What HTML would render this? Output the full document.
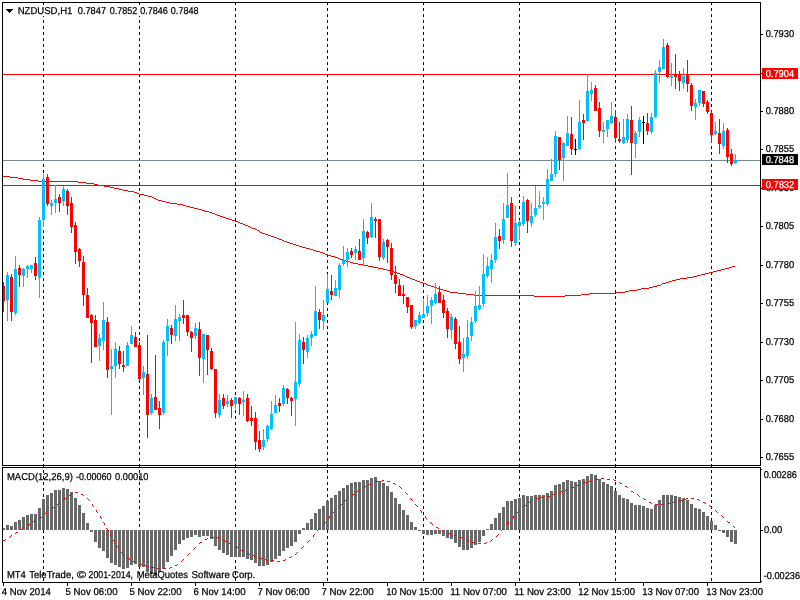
<!DOCTYPE html>
<html lang="en">
<head>
<meta charset="utf-8">
<title>NZDUSD,H1</title>
<style>
html,body{margin:0;padding:0;background:#fff;width:800px;height:600px;overflow:hidden}
svg{display:block;position:absolute;left:0;top:0}
svg rect{shape-rendering:crispEdges}
svg text{font-family:"Liberation Sans",sans-serif;font-size:10px;white-space:pre;text-rendering:geometricPrecision;stroke:#000;stroke-width:0.25px}
svg text.w{stroke:#fff}
</style>
</head>
<body>
<svg width="800" height="600" viewBox="0 0 800 600">
<rect x="0" y="0" width="800" height="600" fill="#ffffff"/>
<g id="seps">
<rect x="43" y="3" width="1" height="2" fill="#000000"/>
<rect x="43" y="8" width="1" height="3" fill="#000000"/>
<rect x="43" y="14" width="1" height="3" fill="#000000"/>
<rect x="43" y="20" width="1" height="3" fill="#000000"/>
<rect x="43" y="26" width="1" height="3" fill="#000000"/>
<rect x="43" y="32" width="1" height="3" fill="#000000"/>
<rect x="43" y="38" width="1" height="3" fill="#000000"/>
<rect x="43" y="44" width="1" height="3" fill="#000000"/>
<rect x="43" y="50" width="1" height="3" fill="#000000"/>
<rect x="43" y="56" width="1" height="3" fill="#000000"/>
<rect x="43" y="62" width="1" height="3" fill="#000000"/>
<rect x="43" y="68" width="1" height="3" fill="#000000"/>
<rect x="43" y="74" width="1" height="3" fill="#000000"/>
<rect x="43" y="80" width="1" height="3" fill="#000000"/>
<rect x="43" y="86" width="1" height="3" fill="#000000"/>
<rect x="43" y="92" width="1" height="3" fill="#000000"/>
<rect x="43" y="98" width="1" height="3" fill="#000000"/>
<rect x="43" y="104" width="1" height="3" fill="#000000"/>
<rect x="43" y="110" width="1" height="3" fill="#000000"/>
<rect x="43" y="116" width="1" height="3" fill="#000000"/>
<rect x="43" y="122" width="1" height="3" fill="#000000"/>
<rect x="43" y="128" width="1" height="3" fill="#000000"/>
<rect x="43" y="134" width="1" height="3" fill="#000000"/>
<rect x="43" y="140" width="1" height="3" fill="#000000"/>
<rect x="43" y="146" width="1" height="3" fill="#000000"/>
<rect x="43" y="152" width="1" height="3" fill="#000000"/>
<rect x="43" y="158" width="1" height="3" fill="#000000"/>
<rect x="43" y="164" width="1" height="3" fill="#000000"/>
<rect x="43" y="170" width="1" height="3" fill="#000000"/>
<rect x="43" y="176" width="1" height="3" fill="#000000"/>
<rect x="43" y="182" width="1" height="3" fill="#000000"/>
<rect x="43" y="188" width="1" height="3" fill="#000000"/>
<rect x="43" y="194" width="1" height="3" fill="#000000"/>
<rect x="43" y="200" width="1" height="3" fill="#000000"/>
<rect x="43" y="206" width="1" height="3" fill="#000000"/>
<rect x="43" y="212" width="1" height="3" fill="#000000"/>
<rect x="43" y="218" width="1" height="3" fill="#000000"/>
<rect x="43" y="224" width="1" height="3" fill="#000000"/>
<rect x="43" y="230" width="1" height="3" fill="#000000"/>
<rect x="43" y="236" width="1" height="3" fill="#000000"/>
<rect x="43" y="242" width="1" height="3" fill="#000000"/>
<rect x="43" y="248" width="1" height="3" fill="#000000"/>
<rect x="43" y="254" width="1" height="3" fill="#000000"/>
<rect x="43" y="260" width="1" height="3" fill="#000000"/>
<rect x="43" y="266" width="1" height="3" fill="#000000"/>
<rect x="43" y="272" width="1" height="3" fill="#000000"/>
<rect x="43" y="278" width="1" height="3" fill="#000000"/>
<rect x="43" y="284" width="1" height="3" fill="#000000"/>
<rect x="43" y="290" width="1" height="3" fill="#000000"/>
<rect x="43" y="296" width="1" height="3" fill="#000000"/>
<rect x="43" y="302" width="1" height="3" fill="#000000"/>
<rect x="43" y="308" width="1" height="3" fill="#000000"/>
<rect x="43" y="314" width="1" height="3" fill="#000000"/>
<rect x="43" y="320" width="1" height="3" fill="#000000"/>
<rect x="43" y="326" width="1" height="3" fill="#000000"/>
<rect x="43" y="332" width="1" height="3" fill="#000000"/>
<rect x="43" y="338" width="1" height="3" fill="#000000"/>
<rect x="43" y="344" width="1" height="3" fill="#000000"/>
<rect x="43" y="350" width="1" height="3" fill="#000000"/>
<rect x="43" y="356" width="1" height="3" fill="#000000"/>
<rect x="43" y="362" width="1" height="3" fill="#000000"/>
<rect x="43" y="368" width="1" height="3" fill="#000000"/>
<rect x="43" y="374" width="1" height="3" fill="#000000"/>
<rect x="43" y="380" width="1" height="3" fill="#000000"/>
<rect x="43" y="386" width="1" height="3" fill="#000000"/>
<rect x="43" y="392" width="1" height="3" fill="#000000"/>
<rect x="43" y="398" width="1" height="3" fill="#000000"/>
<rect x="43" y="404" width="1" height="3" fill="#000000"/>
<rect x="43" y="410" width="1" height="3" fill="#000000"/>
<rect x="43" y="416" width="1" height="3" fill="#000000"/>
<rect x="43" y="422" width="1" height="3" fill="#000000"/>
<rect x="43" y="428" width="1" height="3" fill="#000000"/>
<rect x="43" y="434" width="1" height="3" fill="#000000"/>
<rect x="43" y="440" width="1" height="3" fill="#000000"/>
<rect x="43" y="446" width="1" height="3" fill="#000000"/>
<rect x="43" y="452" width="1" height="3" fill="#000000"/>
<rect x="43" y="458" width="1" height="3" fill="#000000"/>
<rect x="43" y="464" width="1" height="3" fill="#000000"/>
<rect x="43" y="470" width="1" height="3" fill="#000000"/>
<rect x="43" y="476" width="1" height="3" fill="#000000"/>
<rect x="43" y="482" width="1" height="3" fill="#000000"/>
<rect x="43" y="488" width="1" height="3" fill="#000000"/>
<rect x="43" y="494" width="1" height="3" fill="#000000"/>
<rect x="43" y="500" width="1" height="3" fill="#000000"/>
<rect x="43" y="506" width="1" height="3" fill="#000000"/>
<rect x="43" y="512" width="1" height="3" fill="#000000"/>
<rect x="43" y="518" width="1" height="3" fill="#000000"/>
<rect x="43" y="524" width="1" height="3" fill="#000000"/>
<rect x="43" y="530" width="1" height="3" fill="#000000"/>
<rect x="43" y="536" width="1" height="3" fill="#000000"/>
<rect x="43" y="542" width="1" height="3" fill="#000000"/>
<rect x="43" y="548" width="1" height="3" fill="#000000"/>
<rect x="43" y="554" width="1" height="3" fill="#000000"/>
<rect x="43" y="560" width="1" height="3" fill="#000000"/>
<rect x="43" y="566" width="1" height="3" fill="#000000"/>
<rect x="43" y="572" width="1" height="3" fill="#000000"/>
<rect x="43" y="578" width="1" height="3" fill="#000000"/>
<rect x="139" y="3" width="1" height="2" fill="#000000"/>
<rect x="139" y="8" width="1" height="3" fill="#000000"/>
<rect x="139" y="14" width="1" height="3" fill="#000000"/>
<rect x="139" y="20" width="1" height="3" fill="#000000"/>
<rect x="139" y="26" width="1" height="3" fill="#000000"/>
<rect x="139" y="32" width="1" height="3" fill="#000000"/>
<rect x="139" y="38" width="1" height="3" fill="#000000"/>
<rect x="139" y="44" width="1" height="3" fill="#000000"/>
<rect x="139" y="50" width="1" height="3" fill="#000000"/>
<rect x="139" y="56" width="1" height="3" fill="#000000"/>
<rect x="139" y="62" width="1" height="3" fill="#000000"/>
<rect x="139" y="68" width="1" height="3" fill="#000000"/>
<rect x="139" y="74" width="1" height="3" fill="#000000"/>
<rect x="139" y="80" width="1" height="3" fill="#000000"/>
<rect x="139" y="86" width="1" height="3" fill="#000000"/>
<rect x="139" y="92" width="1" height="3" fill="#000000"/>
<rect x="139" y="98" width="1" height="3" fill="#000000"/>
<rect x="139" y="104" width="1" height="3" fill="#000000"/>
<rect x="139" y="110" width="1" height="3" fill="#000000"/>
<rect x="139" y="116" width="1" height="3" fill="#000000"/>
<rect x="139" y="122" width="1" height="3" fill="#000000"/>
<rect x="139" y="128" width="1" height="3" fill="#000000"/>
<rect x="139" y="134" width="1" height="3" fill="#000000"/>
<rect x="139" y="140" width="1" height="3" fill="#000000"/>
<rect x="139" y="146" width="1" height="3" fill="#000000"/>
<rect x="139" y="152" width="1" height="3" fill="#000000"/>
<rect x="139" y="158" width="1" height="3" fill="#000000"/>
<rect x="139" y="164" width="1" height="3" fill="#000000"/>
<rect x="139" y="170" width="1" height="3" fill="#000000"/>
<rect x="139" y="176" width="1" height="3" fill="#000000"/>
<rect x="139" y="182" width="1" height="3" fill="#000000"/>
<rect x="139" y="188" width="1" height="3" fill="#000000"/>
<rect x="139" y="194" width="1" height="3" fill="#000000"/>
<rect x="139" y="200" width="1" height="3" fill="#000000"/>
<rect x="139" y="206" width="1" height="3" fill="#000000"/>
<rect x="139" y="212" width="1" height="3" fill="#000000"/>
<rect x="139" y="218" width="1" height="3" fill="#000000"/>
<rect x="139" y="224" width="1" height="3" fill="#000000"/>
<rect x="139" y="230" width="1" height="3" fill="#000000"/>
<rect x="139" y="236" width="1" height="3" fill="#000000"/>
<rect x="139" y="242" width="1" height="3" fill="#000000"/>
<rect x="139" y="248" width="1" height="3" fill="#000000"/>
<rect x="139" y="254" width="1" height="3" fill="#000000"/>
<rect x="139" y="260" width="1" height="3" fill="#000000"/>
<rect x="139" y="266" width="1" height="3" fill="#000000"/>
<rect x="139" y="272" width="1" height="3" fill="#000000"/>
<rect x="139" y="278" width="1" height="3" fill="#000000"/>
<rect x="139" y="284" width="1" height="3" fill="#000000"/>
<rect x="139" y="290" width="1" height="3" fill="#000000"/>
<rect x="139" y="296" width="1" height="3" fill="#000000"/>
<rect x="139" y="302" width="1" height="3" fill="#000000"/>
<rect x="139" y="308" width="1" height="3" fill="#000000"/>
<rect x="139" y="314" width="1" height="3" fill="#000000"/>
<rect x="139" y="320" width="1" height="3" fill="#000000"/>
<rect x="139" y="326" width="1" height="3" fill="#000000"/>
<rect x="139" y="332" width="1" height="3" fill="#000000"/>
<rect x="139" y="338" width="1" height="3" fill="#000000"/>
<rect x="139" y="344" width="1" height="3" fill="#000000"/>
<rect x="139" y="350" width="1" height="3" fill="#000000"/>
<rect x="139" y="356" width="1" height="3" fill="#000000"/>
<rect x="139" y="362" width="1" height="3" fill="#000000"/>
<rect x="139" y="368" width="1" height="3" fill="#000000"/>
<rect x="139" y="374" width="1" height="3" fill="#000000"/>
<rect x="139" y="380" width="1" height="3" fill="#000000"/>
<rect x="139" y="386" width="1" height="3" fill="#000000"/>
<rect x="139" y="392" width="1" height="3" fill="#000000"/>
<rect x="139" y="398" width="1" height="3" fill="#000000"/>
<rect x="139" y="404" width="1" height="3" fill="#000000"/>
<rect x="139" y="410" width="1" height="3" fill="#000000"/>
<rect x="139" y="416" width="1" height="3" fill="#000000"/>
<rect x="139" y="422" width="1" height="3" fill="#000000"/>
<rect x="139" y="428" width="1" height="3" fill="#000000"/>
<rect x="139" y="434" width="1" height="3" fill="#000000"/>
<rect x="139" y="440" width="1" height="3" fill="#000000"/>
<rect x="139" y="446" width="1" height="3" fill="#000000"/>
<rect x="139" y="452" width="1" height="3" fill="#000000"/>
<rect x="139" y="458" width="1" height="3" fill="#000000"/>
<rect x="139" y="464" width="1" height="3" fill="#000000"/>
<rect x="139" y="470" width="1" height="3" fill="#000000"/>
<rect x="139" y="476" width="1" height="3" fill="#000000"/>
<rect x="139" y="482" width="1" height="3" fill="#000000"/>
<rect x="139" y="488" width="1" height="3" fill="#000000"/>
<rect x="139" y="494" width="1" height="3" fill="#000000"/>
<rect x="139" y="500" width="1" height="3" fill="#000000"/>
<rect x="139" y="506" width="1" height="3" fill="#000000"/>
<rect x="139" y="512" width="1" height="3" fill="#000000"/>
<rect x="139" y="518" width="1" height="3" fill="#000000"/>
<rect x="139" y="524" width="1" height="3" fill="#000000"/>
<rect x="139" y="530" width="1" height="3" fill="#000000"/>
<rect x="139" y="536" width="1" height="3" fill="#000000"/>
<rect x="139" y="542" width="1" height="3" fill="#000000"/>
<rect x="139" y="548" width="1" height="3" fill="#000000"/>
<rect x="139" y="554" width="1" height="3" fill="#000000"/>
<rect x="139" y="560" width="1" height="3" fill="#000000"/>
<rect x="139" y="566" width="1" height="3" fill="#000000"/>
<rect x="139" y="572" width="1" height="3" fill="#000000"/>
<rect x="139" y="578" width="1" height="3" fill="#000000"/>
<rect x="235" y="3" width="1" height="2" fill="#000000"/>
<rect x="235" y="8" width="1" height="3" fill="#000000"/>
<rect x="235" y="14" width="1" height="3" fill="#000000"/>
<rect x="235" y="20" width="1" height="3" fill="#000000"/>
<rect x="235" y="26" width="1" height="3" fill="#000000"/>
<rect x="235" y="32" width="1" height="3" fill="#000000"/>
<rect x="235" y="38" width="1" height="3" fill="#000000"/>
<rect x="235" y="44" width="1" height="3" fill="#000000"/>
<rect x="235" y="50" width="1" height="3" fill="#000000"/>
<rect x="235" y="56" width="1" height="3" fill="#000000"/>
<rect x="235" y="62" width="1" height="3" fill="#000000"/>
<rect x="235" y="68" width="1" height="3" fill="#000000"/>
<rect x="235" y="74" width="1" height="3" fill="#000000"/>
<rect x="235" y="80" width="1" height="3" fill="#000000"/>
<rect x="235" y="86" width="1" height="3" fill="#000000"/>
<rect x="235" y="92" width="1" height="3" fill="#000000"/>
<rect x="235" y="98" width="1" height="3" fill="#000000"/>
<rect x="235" y="104" width="1" height="3" fill="#000000"/>
<rect x="235" y="110" width="1" height="3" fill="#000000"/>
<rect x="235" y="116" width="1" height="3" fill="#000000"/>
<rect x="235" y="122" width="1" height="3" fill="#000000"/>
<rect x="235" y="128" width="1" height="3" fill="#000000"/>
<rect x="235" y="134" width="1" height="3" fill="#000000"/>
<rect x="235" y="140" width="1" height="3" fill="#000000"/>
<rect x="235" y="146" width="1" height="3" fill="#000000"/>
<rect x="235" y="152" width="1" height="3" fill="#000000"/>
<rect x="235" y="158" width="1" height="3" fill="#000000"/>
<rect x="235" y="164" width="1" height="3" fill="#000000"/>
<rect x="235" y="170" width="1" height="3" fill="#000000"/>
<rect x="235" y="176" width="1" height="3" fill="#000000"/>
<rect x="235" y="182" width="1" height="3" fill="#000000"/>
<rect x="235" y="188" width="1" height="3" fill="#000000"/>
<rect x="235" y="194" width="1" height="3" fill="#000000"/>
<rect x="235" y="200" width="1" height="3" fill="#000000"/>
<rect x="235" y="206" width="1" height="3" fill="#000000"/>
<rect x="235" y="212" width="1" height="3" fill="#000000"/>
<rect x="235" y="218" width="1" height="3" fill="#000000"/>
<rect x="235" y="224" width="1" height="3" fill="#000000"/>
<rect x="235" y="230" width="1" height="3" fill="#000000"/>
<rect x="235" y="236" width="1" height="3" fill="#000000"/>
<rect x="235" y="242" width="1" height="3" fill="#000000"/>
<rect x="235" y="248" width="1" height="3" fill="#000000"/>
<rect x="235" y="254" width="1" height="3" fill="#000000"/>
<rect x="235" y="260" width="1" height="3" fill="#000000"/>
<rect x="235" y="266" width="1" height="3" fill="#000000"/>
<rect x="235" y="272" width="1" height="3" fill="#000000"/>
<rect x="235" y="278" width="1" height="3" fill="#000000"/>
<rect x="235" y="284" width="1" height="3" fill="#000000"/>
<rect x="235" y="290" width="1" height="3" fill="#000000"/>
<rect x="235" y="296" width="1" height="3" fill="#000000"/>
<rect x="235" y="302" width="1" height="3" fill="#000000"/>
<rect x="235" y="308" width="1" height="3" fill="#000000"/>
<rect x="235" y="314" width="1" height="3" fill="#000000"/>
<rect x="235" y="320" width="1" height="3" fill="#000000"/>
<rect x="235" y="326" width="1" height="3" fill="#000000"/>
<rect x="235" y="332" width="1" height="3" fill="#000000"/>
<rect x="235" y="338" width="1" height="3" fill="#000000"/>
<rect x="235" y="344" width="1" height="3" fill="#000000"/>
<rect x="235" y="350" width="1" height="3" fill="#000000"/>
<rect x="235" y="356" width="1" height="3" fill="#000000"/>
<rect x="235" y="362" width="1" height="3" fill="#000000"/>
<rect x="235" y="368" width="1" height="3" fill="#000000"/>
<rect x="235" y="374" width="1" height="3" fill="#000000"/>
<rect x="235" y="380" width="1" height="3" fill="#000000"/>
<rect x="235" y="386" width="1" height="3" fill="#000000"/>
<rect x="235" y="392" width="1" height="3" fill="#000000"/>
<rect x="235" y="398" width="1" height="3" fill="#000000"/>
<rect x="235" y="404" width="1" height="3" fill="#000000"/>
<rect x="235" y="410" width="1" height="3" fill="#000000"/>
<rect x="235" y="416" width="1" height="3" fill="#000000"/>
<rect x="235" y="422" width="1" height="3" fill="#000000"/>
<rect x="235" y="428" width="1" height="3" fill="#000000"/>
<rect x="235" y="434" width="1" height="3" fill="#000000"/>
<rect x="235" y="440" width="1" height="3" fill="#000000"/>
<rect x="235" y="446" width="1" height="3" fill="#000000"/>
<rect x="235" y="452" width="1" height="3" fill="#000000"/>
<rect x="235" y="458" width="1" height="3" fill="#000000"/>
<rect x="235" y="464" width="1" height="3" fill="#000000"/>
<rect x="235" y="470" width="1" height="3" fill="#000000"/>
<rect x="235" y="476" width="1" height="3" fill="#000000"/>
<rect x="235" y="482" width="1" height="3" fill="#000000"/>
<rect x="235" y="488" width="1" height="3" fill="#000000"/>
<rect x="235" y="494" width="1" height="3" fill="#000000"/>
<rect x="235" y="500" width="1" height="3" fill="#000000"/>
<rect x="235" y="506" width="1" height="3" fill="#000000"/>
<rect x="235" y="512" width="1" height="3" fill="#000000"/>
<rect x="235" y="518" width="1" height="3" fill="#000000"/>
<rect x="235" y="524" width="1" height="3" fill="#000000"/>
<rect x="235" y="530" width="1" height="3" fill="#000000"/>
<rect x="235" y="536" width="1" height="3" fill="#000000"/>
<rect x="235" y="542" width="1" height="3" fill="#000000"/>
<rect x="235" y="548" width="1" height="3" fill="#000000"/>
<rect x="235" y="554" width="1" height="3" fill="#000000"/>
<rect x="235" y="560" width="1" height="3" fill="#000000"/>
<rect x="235" y="566" width="1" height="3" fill="#000000"/>
<rect x="235" y="572" width="1" height="3" fill="#000000"/>
<rect x="235" y="578" width="1" height="3" fill="#000000"/>
<rect x="327" y="3" width="1" height="2" fill="#000000"/>
<rect x="327" y="8" width="1" height="3" fill="#000000"/>
<rect x="327" y="14" width="1" height="3" fill="#000000"/>
<rect x="327" y="20" width="1" height="3" fill="#000000"/>
<rect x="327" y="26" width="1" height="3" fill="#000000"/>
<rect x="327" y="32" width="1" height="3" fill="#000000"/>
<rect x="327" y="38" width="1" height="3" fill="#000000"/>
<rect x="327" y="44" width="1" height="3" fill="#000000"/>
<rect x="327" y="50" width="1" height="3" fill="#000000"/>
<rect x="327" y="56" width="1" height="3" fill="#000000"/>
<rect x="327" y="62" width="1" height="3" fill="#000000"/>
<rect x="327" y="68" width="1" height="3" fill="#000000"/>
<rect x="327" y="74" width="1" height="3" fill="#000000"/>
<rect x="327" y="80" width="1" height="3" fill="#000000"/>
<rect x="327" y="86" width="1" height="3" fill="#000000"/>
<rect x="327" y="92" width="1" height="3" fill="#000000"/>
<rect x="327" y="98" width="1" height="3" fill="#000000"/>
<rect x="327" y="104" width="1" height="3" fill="#000000"/>
<rect x="327" y="110" width="1" height="3" fill="#000000"/>
<rect x="327" y="116" width="1" height="3" fill="#000000"/>
<rect x="327" y="122" width="1" height="3" fill="#000000"/>
<rect x="327" y="128" width="1" height="3" fill="#000000"/>
<rect x="327" y="134" width="1" height="3" fill="#000000"/>
<rect x="327" y="140" width="1" height="3" fill="#000000"/>
<rect x="327" y="146" width="1" height="3" fill="#000000"/>
<rect x="327" y="152" width="1" height="3" fill="#000000"/>
<rect x="327" y="158" width="1" height="3" fill="#000000"/>
<rect x="327" y="164" width="1" height="3" fill="#000000"/>
<rect x="327" y="170" width="1" height="3" fill="#000000"/>
<rect x="327" y="176" width="1" height="3" fill="#000000"/>
<rect x="327" y="182" width="1" height="3" fill="#000000"/>
<rect x="327" y="188" width="1" height="3" fill="#000000"/>
<rect x="327" y="194" width="1" height="3" fill="#000000"/>
<rect x="327" y="200" width="1" height="3" fill="#000000"/>
<rect x="327" y="206" width="1" height="3" fill="#000000"/>
<rect x="327" y="212" width="1" height="3" fill="#000000"/>
<rect x="327" y="218" width="1" height="3" fill="#000000"/>
<rect x="327" y="224" width="1" height="3" fill="#000000"/>
<rect x="327" y="230" width="1" height="3" fill="#000000"/>
<rect x="327" y="236" width="1" height="3" fill="#000000"/>
<rect x="327" y="242" width="1" height="3" fill="#000000"/>
<rect x="327" y="248" width="1" height="3" fill="#000000"/>
<rect x="327" y="254" width="1" height="3" fill="#000000"/>
<rect x="327" y="260" width="1" height="3" fill="#000000"/>
<rect x="327" y="266" width="1" height="3" fill="#000000"/>
<rect x="327" y="272" width="1" height="3" fill="#000000"/>
<rect x="327" y="278" width="1" height="3" fill="#000000"/>
<rect x="327" y="284" width="1" height="3" fill="#000000"/>
<rect x="327" y="290" width="1" height="3" fill="#000000"/>
<rect x="327" y="296" width="1" height="3" fill="#000000"/>
<rect x="327" y="302" width="1" height="3" fill="#000000"/>
<rect x="327" y="308" width="1" height="3" fill="#000000"/>
<rect x="327" y="314" width="1" height="3" fill="#000000"/>
<rect x="327" y="320" width="1" height="3" fill="#000000"/>
<rect x="327" y="326" width="1" height="3" fill="#000000"/>
<rect x="327" y="332" width="1" height="3" fill="#000000"/>
<rect x="327" y="338" width="1" height="3" fill="#000000"/>
<rect x="327" y="344" width="1" height="3" fill="#000000"/>
<rect x="327" y="350" width="1" height="3" fill="#000000"/>
<rect x="327" y="356" width="1" height="3" fill="#000000"/>
<rect x="327" y="362" width="1" height="3" fill="#000000"/>
<rect x="327" y="368" width="1" height="3" fill="#000000"/>
<rect x="327" y="374" width="1" height="3" fill="#000000"/>
<rect x="327" y="380" width="1" height="3" fill="#000000"/>
<rect x="327" y="386" width="1" height="3" fill="#000000"/>
<rect x="327" y="392" width="1" height="3" fill="#000000"/>
<rect x="327" y="398" width="1" height="3" fill="#000000"/>
<rect x="327" y="404" width="1" height="3" fill="#000000"/>
<rect x="327" y="410" width="1" height="3" fill="#000000"/>
<rect x="327" y="416" width="1" height="3" fill="#000000"/>
<rect x="327" y="422" width="1" height="3" fill="#000000"/>
<rect x="327" y="428" width="1" height="3" fill="#000000"/>
<rect x="327" y="434" width="1" height="3" fill="#000000"/>
<rect x="327" y="440" width="1" height="3" fill="#000000"/>
<rect x="327" y="446" width="1" height="3" fill="#000000"/>
<rect x="327" y="452" width="1" height="3" fill="#000000"/>
<rect x="327" y="458" width="1" height="3" fill="#000000"/>
<rect x="327" y="464" width="1" height="3" fill="#000000"/>
<rect x="327" y="470" width="1" height="3" fill="#000000"/>
<rect x="327" y="476" width="1" height="3" fill="#000000"/>
<rect x="327" y="482" width="1" height="3" fill="#000000"/>
<rect x="327" y="488" width="1" height="3" fill="#000000"/>
<rect x="327" y="494" width="1" height="3" fill="#000000"/>
<rect x="327" y="500" width="1" height="3" fill="#000000"/>
<rect x="327" y="506" width="1" height="3" fill="#000000"/>
<rect x="327" y="512" width="1" height="3" fill="#000000"/>
<rect x="327" y="518" width="1" height="3" fill="#000000"/>
<rect x="327" y="524" width="1" height="3" fill="#000000"/>
<rect x="327" y="530" width="1" height="3" fill="#000000"/>
<rect x="327" y="536" width="1" height="3" fill="#000000"/>
<rect x="327" y="542" width="1" height="3" fill="#000000"/>
<rect x="327" y="548" width="1" height="3" fill="#000000"/>
<rect x="327" y="554" width="1" height="3" fill="#000000"/>
<rect x="327" y="560" width="1" height="3" fill="#000000"/>
<rect x="327" y="566" width="1" height="3" fill="#000000"/>
<rect x="327" y="572" width="1" height="3" fill="#000000"/>
<rect x="327" y="578" width="1" height="3" fill="#000000"/>
<rect x="423" y="3" width="1" height="2" fill="#000000"/>
<rect x="423" y="8" width="1" height="3" fill="#000000"/>
<rect x="423" y="14" width="1" height="3" fill="#000000"/>
<rect x="423" y="20" width="1" height="3" fill="#000000"/>
<rect x="423" y="26" width="1" height="3" fill="#000000"/>
<rect x="423" y="32" width="1" height="3" fill="#000000"/>
<rect x="423" y="38" width="1" height="3" fill="#000000"/>
<rect x="423" y="44" width="1" height="3" fill="#000000"/>
<rect x="423" y="50" width="1" height="3" fill="#000000"/>
<rect x="423" y="56" width="1" height="3" fill="#000000"/>
<rect x="423" y="62" width="1" height="3" fill="#000000"/>
<rect x="423" y="68" width="1" height="3" fill="#000000"/>
<rect x="423" y="74" width="1" height="3" fill="#000000"/>
<rect x="423" y="80" width="1" height="3" fill="#000000"/>
<rect x="423" y="86" width="1" height="3" fill="#000000"/>
<rect x="423" y="92" width="1" height="3" fill="#000000"/>
<rect x="423" y="98" width="1" height="3" fill="#000000"/>
<rect x="423" y="104" width="1" height="3" fill="#000000"/>
<rect x="423" y="110" width="1" height="3" fill="#000000"/>
<rect x="423" y="116" width="1" height="3" fill="#000000"/>
<rect x="423" y="122" width="1" height="3" fill="#000000"/>
<rect x="423" y="128" width="1" height="3" fill="#000000"/>
<rect x="423" y="134" width="1" height="3" fill="#000000"/>
<rect x="423" y="140" width="1" height="3" fill="#000000"/>
<rect x="423" y="146" width="1" height="3" fill="#000000"/>
<rect x="423" y="152" width="1" height="3" fill="#000000"/>
<rect x="423" y="158" width="1" height="3" fill="#000000"/>
<rect x="423" y="164" width="1" height="3" fill="#000000"/>
<rect x="423" y="170" width="1" height="3" fill="#000000"/>
<rect x="423" y="176" width="1" height="3" fill="#000000"/>
<rect x="423" y="182" width="1" height="3" fill="#000000"/>
<rect x="423" y="188" width="1" height="3" fill="#000000"/>
<rect x="423" y="194" width="1" height="3" fill="#000000"/>
<rect x="423" y="200" width="1" height="3" fill="#000000"/>
<rect x="423" y="206" width="1" height="3" fill="#000000"/>
<rect x="423" y="212" width="1" height="3" fill="#000000"/>
<rect x="423" y="218" width="1" height="3" fill="#000000"/>
<rect x="423" y="224" width="1" height="3" fill="#000000"/>
<rect x="423" y="230" width="1" height="3" fill="#000000"/>
<rect x="423" y="236" width="1" height="3" fill="#000000"/>
<rect x="423" y="242" width="1" height="3" fill="#000000"/>
<rect x="423" y="248" width="1" height="3" fill="#000000"/>
<rect x="423" y="254" width="1" height="3" fill="#000000"/>
<rect x="423" y="260" width="1" height="3" fill="#000000"/>
<rect x="423" y="266" width="1" height="3" fill="#000000"/>
<rect x="423" y="272" width="1" height="3" fill="#000000"/>
<rect x="423" y="278" width="1" height="3" fill="#000000"/>
<rect x="423" y="284" width="1" height="3" fill="#000000"/>
<rect x="423" y="290" width="1" height="3" fill="#000000"/>
<rect x="423" y="296" width="1" height="3" fill="#000000"/>
<rect x="423" y="302" width="1" height="3" fill="#000000"/>
<rect x="423" y="308" width="1" height="3" fill="#000000"/>
<rect x="423" y="314" width="1" height="3" fill="#000000"/>
<rect x="423" y="320" width="1" height="3" fill="#000000"/>
<rect x="423" y="326" width="1" height="3" fill="#000000"/>
<rect x="423" y="332" width="1" height="3" fill="#000000"/>
<rect x="423" y="338" width="1" height="3" fill="#000000"/>
<rect x="423" y="344" width="1" height="3" fill="#000000"/>
<rect x="423" y="350" width="1" height="3" fill="#000000"/>
<rect x="423" y="356" width="1" height="3" fill="#000000"/>
<rect x="423" y="362" width="1" height="3" fill="#000000"/>
<rect x="423" y="368" width="1" height="3" fill="#000000"/>
<rect x="423" y="374" width="1" height="3" fill="#000000"/>
<rect x="423" y="380" width="1" height="3" fill="#000000"/>
<rect x="423" y="386" width="1" height="3" fill="#000000"/>
<rect x="423" y="392" width="1" height="3" fill="#000000"/>
<rect x="423" y="398" width="1" height="3" fill="#000000"/>
<rect x="423" y="404" width="1" height="3" fill="#000000"/>
<rect x="423" y="410" width="1" height="3" fill="#000000"/>
<rect x="423" y="416" width="1" height="3" fill="#000000"/>
<rect x="423" y="422" width="1" height="3" fill="#000000"/>
<rect x="423" y="428" width="1" height="3" fill="#000000"/>
<rect x="423" y="434" width="1" height="3" fill="#000000"/>
<rect x="423" y="440" width="1" height="3" fill="#000000"/>
<rect x="423" y="446" width="1" height="3" fill="#000000"/>
<rect x="423" y="452" width="1" height="3" fill="#000000"/>
<rect x="423" y="458" width="1" height="3" fill="#000000"/>
<rect x="423" y="464" width="1" height="3" fill="#000000"/>
<rect x="423" y="470" width="1" height="3" fill="#000000"/>
<rect x="423" y="476" width="1" height="3" fill="#000000"/>
<rect x="423" y="482" width="1" height="3" fill="#000000"/>
<rect x="423" y="488" width="1" height="3" fill="#000000"/>
<rect x="423" y="494" width="1" height="3" fill="#000000"/>
<rect x="423" y="500" width="1" height="3" fill="#000000"/>
<rect x="423" y="506" width="1" height="3" fill="#000000"/>
<rect x="423" y="512" width="1" height="3" fill="#000000"/>
<rect x="423" y="518" width="1" height="3" fill="#000000"/>
<rect x="423" y="524" width="1" height="3" fill="#000000"/>
<rect x="423" y="530" width="1" height="3" fill="#000000"/>
<rect x="423" y="536" width="1" height="3" fill="#000000"/>
<rect x="423" y="542" width="1" height="3" fill="#000000"/>
<rect x="423" y="548" width="1" height="3" fill="#000000"/>
<rect x="423" y="554" width="1" height="3" fill="#000000"/>
<rect x="423" y="560" width="1" height="3" fill="#000000"/>
<rect x="423" y="566" width="1" height="3" fill="#000000"/>
<rect x="423" y="572" width="1" height="3" fill="#000000"/>
<rect x="423" y="578" width="1" height="3" fill="#000000"/>
<rect x="519" y="3" width="1" height="2" fill="#000000"/>
<rect x="519" y="8" width="1" height="3" fill="#000000"/>
<rect x="519" y="14" width="1" height="3" fill="#000000"/>
<rect x="519" y="20" width="1" height="3" fill="#000000"/>
<rect x="519" y="26" width="1" height="3" fill="#000000"/>
<rect x="519" y="32" width="1" height="3" fill="#000000"/>
<rect x="519" y="38" width="1" height="3" fill="#000000"/>
<rect x="519" y="44" width="1" height="3" fill="#000000"/>
<rect x="519" y="50" width="1" height="3" fill="#000000"/>
<rect x="519" y="56" width="1" height="3" fill="#000000"/>
<rect x="519" y="62" width="1" height="3" fill="#000000"/>
<rect x="519" y="68" width="1" height="3" fill="#000000"/>
<rect x="519" y="74" width="1" height="3" fill="#000000"/>
<rect x="519" y="80" width="1" height="3" fill="#000000"/>
<rect x="519" y="86" width="1" height="3" fill="#000000"/>
<rect x="519" y="92" width="1" height="3" fill="#000000"/>
<rect x="519" y="98" width="1" height="3" fill="#000000"/>
<rect x="519" y="104" width="1" height="3" fill="#000000"/>
<rect x="519" y="110" width="1" height="3" fill="#000000"/>
<rect x="519" y="116" width="1" height="3" fill="#000000"/>
<rect x="519" y="122" width="1" height="3" fill="#000000"/>
<rect x="519" y="128" width="1" height="3" fill="#000000"/>
<rect x="519" y="134" width="1" height="3" fill="#000000"/>
<rect x="519" y="140" width="1" height="3" fill="#000000"/>
<rect x="519" y="146" width="1" height="3" fill="#000000"/>
<rect x="519" y="152" width="1" height="3" fill="#000000"/>
<rect x="519" y="158" width="1" height="3" fill="#000000"/>
<rect x="519" y="164" width="1" height="3" fill="#000000"/>
<rect x="519" y="170" width="1" height="3" fill="#000000"/>
<rect x="519" y="176" width="1" height="3" fill="#000000"/>
<rect x="519" y="182" width="1" height="3" fill="#000000"/>
<rect x="519" y="188" width="1" height="3" fill="#000000"/>
<rect x="519" y="194" width="1" height="3" fill="#000000"/>
<rect x="519" y="200" width="1" height="3" fill="#000000"/>
<rect x="519" y="206" width="1" height="3" fill="#000000"/>
<rect x="519" y="212" width="1" height="3" fill="#000000"/>
<rect x="519" y="218" width="1" height="3" fill="#000000"/>
<rect x="519" y="224" width="1" height="3" fill="#000000"/>
<rect x="519" y="230" width="1" height="3" fill="#000000"/>
<rect x="519" y="236" width="1" height="3" fill="#000000"/>
<rect x="519" y="242" width="1" height="3" fill="#000000"/>
<rect x="519" y="248" width="1" height="3" fill="#000000"/>
<rect x="519" y="254" width="1" height="3" fill="#000000"/>
<rect x="519" y="260" width="1" height="3" fill="#000000"/>
<rect x="519" y="266" width="1" height="3" fill="#000000"/>
<rect x="519" y="272" width="1" height="3" fill="#000000"/>
<rect x="519" y="278" width="1" height="3" fill="#000000"/>
<rect x="519" y="284" width="1" height="3" fill="#000000"/>
<rect x="519" y="290" width="1" height="3" fill="#000000"/>
<rect x="519" y="296" width="1" height="3" fill="#000000"/>
<rect x="519" y="302" width="1" height="3" fill="#000000"/>
<rect x="519" y="308" width="1" height="3" fill="#000000"/>
<rect x="519" y="314" width="1" height="3" fill="#000000"/>
<rect x="519" y="320" width="1" height="3" fill="#000000"/>
<rect x="519" y="326" width="1" height="3" fill="#000000"/>
<rect x="519" y="332" width="1" height="3" fill="#000000"/>
<rect x="519" y="338" width="1" height="3" fill="#000000"/>
<rect x="519" y="344" width="1" height="3" fill="#000000"/>
<rect x="519" y="350" width="1" height="3" fill="#000000"/>
<rect x="519" y="356" width="1" height="3" fill="#000000"/>
<rect x="519" y="362" width="1" height="3" fill="#000000"/>
<rect x="519" y="368" width="1" height="3" fill="#000000"/>
<rect x="519" y="374" width="1" height="3" fill="#000000"/>
<rect x="519" y="380" width="1" height="3" fill="#000000"/>
<rect x="519" y="386" width="1" height="3" fill="#000000"/>
<rect x="519" y="392" width="1" height="3" fill="#000000"/>
<rect x="519" y="398" width="1" height="3" fill="#000000"/>
<rect x="519" y="404" width="1" height="3" fill="#000000"/>
<rect x="519" y="410" width="1" height="3" fill="#000000"/>
<rect x="519" y="416" width="1" height="3" fill="#000000"/>
<rect x="519" y="422" width="1" height="3" fill="#000000"/>
<rect x="519" y="428" width="1" height="3" fill="#000000"/>
<rect x="519" y="434" width="1" height="3" fill="#000000"/>
<rect x="519" y="440" width="1" height="3" fill="#000000"/>
<rect x="519" y="446" width="1" height="3" fill="#000000"/>
<rect x="519" y="452" width="1" height="3" fill="#000000"/>
<rect x="519" y="458" width="1" height="3" fill="#000000"/>
<rect x="519" y="464" width="1" height="3" fill="#000000"/>
<rect x="519" y="470" width="1" height="3" fill="#000000"/>
<rect x="519" y="476" width="1" height="3" fill="#000000"/>
<rect x="519" y="482" width="1" height="3" fill="#000000"/>
<rect x="519" y="488" width="1" height="3" fill="#000000"/>
<rect x="519" y="494" width="1" height="3" fill="#000000"/>
<rect x="519" y="500" width="1" height="3" fill="#000000"/>
<rect x="519" y="506" width="1" height="3" fill="#000000"/>
<rect x="519" y="512" width="1" height="3" fill="#000000"/>
<rect x="519" y="518" width="1" height="3" fill="#000000"/>
<rect x="519" y="524" width="1" height="3" fill="#000000"/>
<rect x="519" y="530" width="1" height="3" fill="#000000"/>
<rect x="519" y="536" width="1" height="3" fill="#000000"/>
<rect x="519" y="542" width="1" height="3" fill="#000000"/>
<rect x="519" y="548" width="1" height="3" fill="#000000"/>
<rect x="519" y="554" width="1" height="3" fill="#000000"/>
<rect x="519" y="560" width="1" height="3" fill="#000000"/>
<rect x="519" y="566" width="1" height="3" fill="#000000"/>
<rect x="519" y="572" width="1" height="3" fill="#000000"/>
<rect x="519" y="578" width="1" height="3" fill="#000000"/>
<rect x="615" y="3" width="1" height="2" fill="#000000"/>
<rect x="615" y="8" width="1" height="3" fill="#000000"/>
<rect x="615" y="14" width="1" height="3" fill="#000000"/>
<rect x="615" y="20" width="1" height="3" fill="#000000"/>
<rect x="615" y="26" width="1" height="3" fill="#000000"/>
<rect x="615" y="32" width="1" height="3" fill="#000000"/>
<rect x="615" y="38" width="1" height="3" fill="#000000"/>
<rect x="615" y="44" width="1" height="3" fill="#000000"/>
<rect x="615" y="50" width="1" height="3" fill="#000000"/>
<rect x="615" y="56" width="1" height="3" fill="#000000"/>
<rect x="615" y="62" width="1" height="3" fill="#000000"/>
<rect x="615" y="68" width="1" height="3" fill="#000000"/>
<rect x="615" y="74" width="1" height="3" fill="#000000"/>
<rect x="615" y="80" width="1" height="3" fill="#000000"/>
<rect x="615" y="86" width="1" height="3" fill="#000000"/>
<rect x="615" y="92" width="1" height="3" fill="#000000"/>
<rect x="615" y="98" width="1" height="3" fill="#000000"/>
<rect x="615" y="104" width="1" height="3" fill="#000000"/>
<rect x="615" y="110" width="1" height="3" fill="#000000"/>
<rect x="615" y="116" width="1" height="3" fill="#000000"/>
<rect x="615" y="122" width="1" height="3" fill="#000000"/>
<rect x="615" y="128" width="1" height="3" fill="#000000"/>
<rect x="615" y="134" width="1" height="3" fill="#000000"/>
<rect x="615" y="140" width="1" height="3" fill="#000000"/>
<rect x="615" y="146" width="1" height="3" fill="#000000"/>
<rect x="615" y="152" width="1" height="3" fill="#000000"/>
<rect x="615" y="158" width="1" height="3" fill="#000000"/>
<rect x="615" y="164" width="1" height="3" fill="#000000"/>
<rect x="615" y="170" width="1" height="3" fill="#000000"/>
<rect x="615" y="176" width="1" height="3" fill="#000000"/>
<rect x="615" y="182" width="1" height="3" fill="#000000"/>
<rect x="615" y="188" width="1" height="3" fill="#000000"/>
<rect x="615" y="194" width="1" height="3" fill="#000000"/>
<rect x="615" y="200" width="1" height="3" fill="#000000"/>
<rect x="615" y="206" width="1" height="3" fill="#000000"/>
<rect x="615" y="212" width="1" height="3" fill="#000000"/>
<rect x="615" y="218" width="1" height="3" fill="#000000"/>
<rect x="615" y="224" width="1" height="3" fill="#000000"/>
<rect x="615" y="230" width="1" height="3" fill="#000000"/>
<rect x="615" y="236" width="1" height="3" fill="#000000"/>
<rect x="615" y="242" width="1" height="3" fill="#000000"/>
<rect x="615" y="248" width="1" height="3" fill="#000000"/>
<rect x="615" y="254" width="1" height="3" fill="#000000"/>
<rect x="615" y="260" width="1" height="3" fill="#000000"/>
<rect x="615" y="266" width="1" height="3" fill="#000000"/>
<rect x="615" y="272" width="1" height="3" fill="#000000"/>
<rect x="615" y="278" width="1" height="3" fill="#000000"/>
<rect x="615" y="284" width="1" height="3" fill="#000000"/>
<rect x="615" y="290" width="1" height="3" fill="#000000"/>
<rect x="615" y="296" width="1" height="3" fill="#000000"/>
<rect x="615" y="302" width="1" height="3" fill="#000000"/>
<rect x="615" y="308" width="1" height="3" fill="#000000"/>
<rect x="615" y="314" width="1" height="3" fill="#000000"/>
<rect x="615" y="320" width="1" height="3" fill="#000000"/>
<rect x="615" y="326" width="1" height="3" fill="#000000"/>
<rect x="615" y="332" width="1" height="3" fill="#000000"/>
<rect x="615" y="338" width="1" height="3" fill="#000000"/>
<rect x="615" y="344" width="1" height="3" fill="#000000"/>
<rect x="615" y="350" width="1" height="3" fill="#000000"/>
<rect x="615" y="356" width="1" height="3" fill="#000000"/>
<rect x="615" y="362" width="1" height="3" fill="#000000"/>
<rect x="615" y="368" width="1" height="3" fill="#000000"/>
<rect x="615" y="374" width="1" height="3" fill="#000000"/>
<rect x="615" y="380" width="1" height="3" fill="#000000"/>
<rect x="615" y="386" width="1" height="3" fill="#000000"/>
<rect x="615" y="392" width="1" height="3" fill="#000000"/>
<rect x="615" y="398" width="1" height="3" fill="#000000"/>
<rect x="615" y="404" width="1" height="3" fill="#000000"/>
<rect x="615" y="410" width="1" height="3" fill="#000000"/>
<rect x="615" y="416" width="1" height="3" fill="#000000"/>
<rect x="615" y="422" width="1" height="3" fill="#000000"/>
<rect x="615" y="428" width="1" height="3" fill="#000000"/>
<rect x="615" y="434" width="1" height="3" fill="#000000"/>
<rect x="615" y="440" width="1" height="3" fill="#000000"/>
<rect x="615" y="446" width="1" height="3" fill="#000000"/>
<rect x="615" y="452" width="1" height="3" fill="#000000"/>
<rect x="615" y="458" width="1" height="3" fill="#000000"/>
<rect x="615" y="464" width="1" height="3" fill="#000000"/>
<rect x="615" y="470" width="1" height="3" fill="#000000"/>
<rect x="615" y="476" width="1" height="3" fill="#000000"/>
<rect x="615" y="482" width="1" height="3" fill="#000000"/>
<rect x="615" y="488" width="1" height="3" fill="#000000"/>
<rect x="615" y="494" width="1" height="3" fill="#000000"/>
<rect x="615" y="500" width="1" height="3" fill="#000000"/>
<rect x="615" y="506" width="1" height="3" fill="#000000"/>
<rect x="615" y="512" width="1" height="3" fill="#000000"/>
<rect x="615" y="518" width="1" height="3" fill="#000000"/>
<rect x="615" y="524" width="1" height="3" fill="#000000"/>
<rect x="615" y="530" width="1" height="3" fill="#000000"/>
<rect x="615" y="536" width="1" height="3" fill="#000000"/>
<rect x="615" y="542" width="1" height="3" fill="#000000"/>
<rect x="615" y="548" width="1" height="3" fill="#000000"/>
<rect x="615" y="554" width="1" height="3" fill="#000000"/>
<rect x="615" y="560" width="1" height="3" fill="#000000"/>
<rect x="615" y="566" width="1" height="3" fill="#000000"/>
<rect x="615" y="572" width="1" height="3" fill="#000000"/>
<rect x="615" y="578" width="1" height="3" fill="#000000"/>
<rect x="711" y="3" width="1" height="2" fill="#000000"/>
<rect x="711" y="8" width="1" height="3" fill="#000000"/>
<rect x="711" y="14" width="1" height="3" fill="#000000"/>
<rect x="711" y="20" width="1" height="3" fill="#000000"/>
<rect x="711" y="26" width="1" height="3" fill="#000000"/>
<rect x="711" y="32" width="1" height="3" fill="#000000"/>
<rect x="711" y="38" width="1" height="3" fill="#000000"/>
<rect x="711" y="44" width="1" height="3" fill="#000000"/>
<rect x="711" y="50" width="1" height="3" fill="#000000"/>
<rect x="711" y="56" width="1" height="3" fill="#000000"/>
<rect x="711" y="62" width="1" height="3" fill="#000000"/>
<rect x="711" y="68" width="1" height="3" fill="#000000"/>
<rect x="711" y="74" width="1" height="3" fill="#000000"/>
<rect x="711" y="80" width="1" height="3" fill="#000000"/>
<rect x="711" y="86" width="1" height="3" fill="#000000"/>
<rect x="711" y="92" width="1" height="3" fill="#000000"/>
<rect x="711" y="98" width="1" height="3" fill="#000000"/>
<rect x="711" y="104" width="1" height="3" fill="#000000"/>
<rect x="711" y="110" width="1" height="3" fill="#000000"/>
<rect x="711" y="116" width="1" height="3" fill="#000000"/>
<rect x="711" y="122" width="1" height="3" fill="#000000"/>
<rect x="711" y="128" width="1" height="3" fill="#000000"/>
<rect x="711" y="134" width="1" height="3" fill="#000000"/>
<rect x="711" y="140" width="1" height="3" fill="#000000"/>
<rect x="711" y="146" width="1" height="3" fill="#000000"/>
<rect x="711" y="152" width="1" height="3" fill="#000000"/>
<rect x="711" y="158" width="1" height="3" fill="#000000"/>
<rect x="711" y="164" width="1" height="3" fill="#000000"/>
<rect x="711" y="170" width="1" height="3" fill="#000000"/>
<rect x="711" y="176" width="1" height="3" fill="#000000"/>
<rect x="711" y="182" width="1" height="3" fill="#000000"/>
<rect x="711" y="188" width="1" height="3" fill="#000000"/>
<rect x="711" y="194" width="1" height="3" fill="#000000"/>
<rect x="711" y="200" width="1" height="3" fill="#000000"/>
<rect x="711" y="206" width="1" height="3" fill="#000000"/>
<rect x="711" y="212" width="1" height="3" fill="#000000"/>
<rect x="711" y="218" width="1" height="3" fill="#000000"/>
<rect x="711" y="224" width="1" height="3" fill="#000000"/>
<rect x="711" y="230" width="1" height="3" fill="#000000"/>
<rect x="711" y="236" width="1" height="3" fill="#000000"/>
<rect x="711" y="242" width="1" height="3" fill="#000000"/>
<rect x="711" y="248" width="1" height="3" fill="#000000"/>
<rect x="711" y="254" width="1" height="3" fill="#000000"/>
<rect x="711" y="260" width="1" height="3" fill="#000000"/>
<rect x="711" y="266" width="1" height="3" fill="#000000"/>
<rect x="711" y="272" width="1" height="3" fill="#000000"/>
<rect x="711" y="278" width="1" height="3" fill="#000000"/>
<rect x="711" y="284" width="1" height="3" fill="#000000"/>
<rect x="711" y="290" width="1" height="3" fill="#000000"/>
<rect x="711" y="296" width="1" height="3" fill="#000000"/>
<rect x="711" y="302" width="1" height="3" fill="#000000"/>
<rect x="711" y="308" width="1" height="3" fill="#000000"/>
<rect x="711" y="314" width="1" height="3" fill="#000000"/>
<rect x="711" y="320" width="1" height="3" fill="#000000"/>
<rect x="711" y="326" width="1" height="3" fill="#000000"/>
<rect x="711" y="332" width="1" height="3" fill="#000000"/>
<rect x="711" y="338" width="1" height="3" fill="#000000"/>
<rect x="711" y="344" width="1" height="3" fill="#000000"/>
<rect x="711" y="350" width="1" height="3" fill="#000000"/>
<rect x="711" y="356" width="1" height="3" fill="#000000"/>
<rect x="711" y="362" width="1" height="3" fill="#000000"/>
<rect x="711" y="368" width="1" height="3" fill="#000000"/>
<rect x="711" y="374" width="1" height="3" fill="#000000"/>
<rect x="711" y="380" width="1" height="3" fill="#000000"/>
<rect x="711" y="386" width="1" height="3" fill="#000000"/>
<rect x="711" y="392" width="1" height="3" fill="#000000"/>
<rect x="711" y="398" width="1" height="3" fill="#000000"/>
<rect x="711" y="404" width="1" height="3" fill="#000000"/>
<rect x="711" y="410" width="1" height="3" fill="#000000"/>
<rect x="711" y="416" width="1" height="3" fill="#000000"/>
<rect x="711" y="422" width="1" height="3" fill="#000000"/>
<rect x="711" y="428" width="1" height="3" fill="#000000"/>
<rect x="711" y="434" width="1" height="3" fill="#000000"/>
<rect x="711" y="440" width="1" height="3" fill="#000000"/>
<rect x="711" y="446" width="1" height="3" fill="#000000"/>
<rect x="711" y="452" width="1" height="3" fill="#000000"/>
<rect x="711" y="458" width="1" height="3" fill="#000000"/>
<rect x="711" y="464" width="1" height="3" fill="#000000"/>
<rect x="711" y="470" width="1" height="3" fill="#000000"/>
<rect x="711" y="476" width="1" height="3" fill="#000000"/>
<rect x="711" y="482" width="1" height="3" fill="#000000"/>
<rect x="711" y="488" width="1" height="3" fill="#000000"/>
<rect x="711" y="494" width="1" height="3" fill="#000000"/>
<rect x="711" y="500" width="1" height="3" fill="#000000"/>
<rect x="711" y="506" width="1" height="3" fill="#000000"/>
<rect x="711" y="512" width="1" height="3" fill="#000000"/>
<rect x="711" y="518" width="1" height="3" fill="#000000"/>
<rect x="711" y="524" width="1" height="3" fill="#000000"/>
<rect x="711" y="530" width="1" height="3" fill="#000000"/>
<rect x="711" y="536" width="1" height="3" fill="#000000"/>
<rect x="711" y="542" width="1" height="3" fill="#000000"/>
<rect x="711" y="548" width="1" height="3" fill="#000000"/>
<rect x="711" y="554" width="1" height="3" fill="#000000"/>
<rect x="711" y="560" width="1" height="3" fill="#000000"/>
<rect x="711" y="566" width="1" height="3" fill="#000000"/>
<rect x="711" y="572" width="1" height="3" fill="#000000"/>
<rect x="711" y="578" width="1" height="3" fill="#000000"/>
</g>
<g id="hlines">
<rect x="3" y="160" width="757" height="1" fill="#778899"/>
<rect x="3" y="74" width="757" height="1" fill="#ff0000"/>
<rect x="3" y="185" width="757" height="1" fill="#ff0000"/>
</g>
<g id="ma">
<rect x="3" y="176" width="7" height="1" fill="#ff0000"/>
<rect x="10" y="177" width="8" height="1" fill="#ff0000"/>
<rect x="18" y="178" width="5" height="1" fill="#ff0000"/>
<rect x="23" y="179" width="7" height="1" fill="#ff0000"/>
<rect x="30" y="180" width="8" height="1" fill="#ff0000"/>
<rect x="38" y="181" width="40" height="1" fill="#ff0000"/>
<rect x="78" y="182" width="8" height="1" fill="#ff0000"/>
<rect x="86" y="183" width="8" height="1" fill="#ff0000"/>
<rect x="94" y="184" width="4" height="1" fill="#ff0000"/>
<rect x="98" y="185" width="6" height="1" fill="#ff0000"/>
<rect x="104" y="186" width="6" height="1" fill="#ff0000"/>
<rect x="110" y="187" width="4" height="1" fill="#ff0000"/>
<rect x="114" y="188" width="5" height="1" fill="#ff0000"/>
<rect x="119" y="189" width="4" height="1" fill="#ff0000"/>
<rect x="123" y="190" width="5" height="1" fill="#ff0000"/>
<rect x="128" y="191" width="6" height="1" fill="#ff0000"/>
<rect x="134" y="192" width="3" height="1" fill="#ff0000"/>
<rect x="137" y="193" width="2" height="1" fill="#ff0000"/>
<rect x="139" y="194" width="5" height="1" fill="#ff0000"/>
<rect x="144" y="195" width="4" height="1" fill="#ff0000"/>
<rect x="148" y="196" width="4" height="1" fill="#ff0000"/>
<rect x="152" y="197" width="2" height="1" fill="#ff0000"/>
<rect x="154" y="198" width="2" height="1" fill="#ff0000"/>
<rect x="156" y="199" width="2" height="1" fill="#ff0000"/>
<rect x="158" y="200" width="4" height="1" fill="#ff0000"/>
<rect x="162" y="201" width="4" height="1" fill="#ff0000"/>
<rect x="166" y="202" width="4" height="1" fill="#ff0000"/>
<rect x="170" y="203" width="7" height="1" fill="#ff0000"/>
<rect x="177" y="204" width="6" height="1" fill="#ff0000"/>
<rect x="183" y="205" width="3" height="1" fill="#ff0000"/>
<rect x="186" y="206" width="4" height="1" fill="#ff0000"/>
<rect x="190" y="207" width="4" height="1" fill="#ff0000"/>
<rect x="194" y="208" width="4" height="1" fill="#ff0000"/>
<rect x="198" y="209" width="4" height="1" fill="#ff0000"/>
<rect x="202" y="210" width="3" height="1" fill="#ff0000"/>
<rect x="205" y="211" width="4" height="1" fill="#ff0000"/>
<rect x="209" y="212" width="3" height="1" fill="#ff0000"/>
<rect x="212" y="213" width="3" height="1" fill="#ff0000"/>
<rect x="215" y="214" width="2" height="1" fill="#ff0000"/>
<rect x="217" y="215" width="3" height="1" fill="#ff0000"/>
<rect x="220" y="216" width="3" height="1" fill="#ff0000"/>
<rect x="223" y="217" width="3" height="1" fill="#ff0000"/>
<rect x="226" y="218" width="3" height="1" fill="#ff0000"/>
<rect x="229" y="219" width="3" height="1" fill="#ff0000"/>
<rect x="232" y="220" width="3" height="1" fill="#ff0000"/>
<rect x="235" y="221" width="3" height="1" fill="#ff0000"/>
<rect x="238" y="222" width="2" height="1" fill="#ff0000"/>
<rect x="240" y="223" width="3" height="1" fill="#ff0000"/>
<rect x="243" y="224" width="2" height="1" fill="#ff0000"/>
<rect x="245" y="225" width="3" height="1" fill="#ff0000"/>
<rect x="248" y="226" width="2" height="1" fill="#ff0000"/>
<rect x="250" y="227" width="2" height="1" fill="#ff0000"/>
<rect x="252" y="228" width="3" height="1" fill="#ff0000"/>
<rect x="255" y="229" width="2" height="1" fill="#ff0000"/>
<rect x="257" y="230" width="2" height="1" fill="#ff0000"/>
<rect x="259" y="231" width="1" height="1" fill="#ff0000"/>
<rect x="260" y="232" width="2" height="1" fill="#ff0000"/>
<rect x="262" y="233" width="3" height="1" fill="#ff0000"/>
<rect x="265" y="234" width="3" height="1" fill="#ff0000"/>
<rect x="268" y="235" width="3" height="1" fill="#ff0000"/>
<rect x="271" y="236" width="3" height="1" fill="#ff0000"/>
<rect x="274" y="237" width="3" height="1" fill="#ff0000"/>
<rect x="277" y="238" width="2" height="1" fill="#ff0000"/>
<rect x="279" y="239" width="3" height="1" fill="#ff0000"/>
<rect x="282" y="240" width="2" height="1" fill="#ff0000"/>
<rect x="284" y="241" width="3" height="1" fill="#ff0000"/>
<rect x="287" y="242" width="3" height="1" fill="#ff0000"/>
<rect x="290" y="243" width="3" height="1" fill="#ff0000"/>
<rect x="293" y="244" width="3" height="1" fill="#ff0000"/>
<rect x="296" y="245" width="3" height="1" fill="#ff0000"/>
<rect x="299" y="246" width="3" height="1" fill="#ff0000"/>
<rect x="302" y="247" width="4" height="1" fill="#ff0000"/>
<rect x="306" y="248" width="4" height="1" fill="#ff0000"/>
<rect x="310" y="249" width="3" height="1" fill="#ff0000"/>
<rect x="313" y="250" width="3" height="1" fill="#ff0000"/>
<rect x="316" y="251" width="4" height="1" fill="#ff0000"/>
<rect x="320" y="252" width="3" height="1" fill="#ff0000"/>
<rect x="323" y="253" width="2" height="1" fill="#ff0000"/>
<rect x="325" y="254" width="3" height="1" fill="#ff0000"/>
<rect x="328" y="255" width="3" height="1" fill="#ff0000"/>
<rect x="331" y="256" width="4" height="1" fill="#ff0000"/>
<rect x="335" y="257" width="3" height="1" fill="#ff0000"/>
<rect x="338" y="258" width="2" height="1" fill="#ff0000"/>
<rect x="340" y="259" width="3" height="1" fill="#ff0000"/>
<rect x="343" y="260" width="3" height="1" fill="#ff0000"/>
<rect x="346" y="261" width="4" height="1" fill="#ff0000"/>
<rect x="350" y="262" width="3" height="1" fill="#ff0000"/>
<rect x="353" y="263" width="5" height="1" fill="#ff0000"/>
<rect x="358" y="264" width="5" height="1" fill="#ff0000"/>
<rect x="363" y="265" width="5" height="1" fill="#ff0000"/>
<rect x="368" y="266" width="5" height="1" fill="#ff0000"/>
<rect x="373" y="267" width="5" height="1" fill="#ff0000"/>
<rect x="378" y="268" width="5" height="1" fill="#ff0000"/>
<rect x="383" y="269" width="4" height="1" fill="#ff0000"/>
<rect x="387" y="270" width="4" height="1" fill="#ff0000"/>
<rect x="391" y="271" width="3" height="1" fill="#ff0000"/>
<rect x="394" y="272" width="3" height="1" fill="#ff0000"/>
<rect x="397" y="273" width="3" height="1" fill="#ff0000"/>
<rect x="400" y="274" width="3" height="1" fill="#ff0000"/>
<rect x="403" y="275" width="2" height="1" fill="#ff0000"/>
<rect x="405" y="276" width="2" height="1" fill="#ff0000"/>
<rect x="407" y="277" width="3" height="1" fill="#ff0000"/>
<rect x="410" y="278" width="2" height="1" fill="#ff0000"/>
<rect x="412" y="279" width="3" height="1" fill="#ff0000"/>
<rect x="415" y="280" width="2" height="1" fill="#ff0000"/>
<rect x="417" y="281" width="3" height="1" fill="#ff0000"/>
<rect x="420" y="282" width="3" height="1" fill="#ff0000"/>
<rect x="423" y="283" width="3" height="1" fill="#ff0000"/>
<rect x="426" y="284" width="2" height="1" fill="#ff0000"/>
<rect x="428" y="285" width="3" height="1" fill="#ff0000"/>
<rect x="431" y="286" width="3" height="1" fill="#ff0000"/>
<rect x="434" y="287" width="3" height="1" fill="#ff0000"/>
<rect x="437" y="288" width="3" height="1" fill="#ff0000"/>
<rect x="440" y="289" width="3" height="1" fill="#ff0000"/>
<rect x="443" y="290" width="4" height="1" fill="#ff0000"/>
<rect x="447" y="291" width="3" height="1" fill="#ff0000"/>
<rect x="450" y="292" width="8" height="1" fill="#ff0000"/>
<rect x="458" y="293" width="8" height="1" fill="#ff0000"/>
<rect x="466" y="294" width="8" height="1" fill="#ff0000"/>
<rect x="474" y="295" width="60" height="1" fill="#ff0000"/>
<rect x="534" y="296" width="31" height="1" fill="#ff0000"/>
<rect x="565" y="295" width="16" height="1" fill="#ff0000"/>
<rect x="581" y="294" width="8" height="1" fill="#ff0000"/>
<rect x="589" y="293" width="27" height="1" fill="#ff0000"/>
<rect x="616" y="292" width="9" height="1" fill="#ff0000"/>
<rect x="625" y="291" width="4" height="1" fill="#ff0000"/>
<rect x="629" y="290" width="8" height="1" fill="#ff0000"/>
<rect x="637" y="289" width="4" height="1" fill="#ff0000"/>
<rect x="641" y="288" width="8" height="1" fill="#ff0000"/>
<rect x="649" y="287" width="4" height="1" fill="#ff0000"/>
<rect x="653" y="286" width="4" height="1" fill="#ff0000"/>
<rect x="657" y="285" width="4" height="1" fill="#ff0000"/>
<rect x="661" y="284" width="1" height="1" fill="#ff0000"/>
<rect x="662" y="283" width="4" height="1" fill="#ff0000"/>
<rect x="666" y="282" width="3" height="1" fill="#ff0000"/>
<rect x="669" y="281" width="3" height="1" fill="#ff0000"/>
<rect x="672" y="280" width="4" height="1" fill="#ff0000"/>
<rect x="676" y="279" width="4" height="1" fill="#ff0000"/>
<rect x="680" y="278" width="7" height="1" fill="#ff0000"/>
<rect x="687" y="277" width="6" height="1" fill="#ff0000"/>
<rect x="693" y="276" width="4" height="1" fill="#ff0000"/>
<rect x="697" y="275" width="4" height="1" fill="#ff0000"/>
<rect x="701" y="274" width="4" height="1" fill="#ff0000"/>
<rect x="705" y="273" width="4" height="1" fill="#ff0000"/>
<rect x="709" y="272" width="4" height="1" fill="#ff0000"/>
<rect x="713" y="271" width="4" height="1" fill="#ff0000"/>
<rect x="717" y="270" width="4" height="1" fill="#ff0000"/>
<rect x="721" y="269" width="4" height="1" fill="#ff0000"/>
<rect x="725" y="268" width="4" height="1" fill="#ff0000"/>
<rect x="729" y="267" width="3" height="1" fill="#ff0000"/>
<rect x="732" y="266" width="3" height="1" fill="#ff0000"/>
</g>
<g id="candles">
<rect x="3" y="282" width="1" height="30" fill="#ff0000"/>
<rect x="2" y="286" width="3" height="15" fill="#ff0000"/>
<rect x="7" y="272" width="1" height="49" fill="#00bfff"/>
<rect x="6" y="275" width="3" height="25" fill="#00bfff"/>
<rect x="11" y="274" width="1" height="47" fill="#ff0000"/>
<rect x="10" y="277" width="3" height="35" fill="#ff0000"/>
<rect x="15" y="256" width="1" height="59" fill="#00bfff"/>
<rect x="14" y="269" width="3" height="44" fill="#00bfff"/>
<rect x="19" y="265" width="1" height="22" fill="#ff0000"/>
<rect x="18" y="268" width="3" height="7" fill="#ff0000"/>
<rect x="23" y="268" width="1" height="19" fill="#00bfff"/>
<rect x="22" y="269" width="3" height="7" fill="#00bfff"/>
<rect x="27" y="265" width="1" height="13" fill="#00bfff"/>
<rect x="26" y="266" width="3" height="3" fill="#00bfff"/>
<rect x="31" y="265" width="1" height="8" fill="#00bfff"/>
<rect x="30" y="265" width="3" height="4" fill="#00bfff"/>
<rect x="35" y="257" width="1" height="23" fill="#ff0000"/>
<rect x="34" y="263" width="3" height="13" fill="#ff0000"/>
<rect x="39" y="217" width="1" height="81" fill="#00bfff"/>
<rect x="38" y="220" width="3" height="58" fill="#00bfff"/>
<rect x="43" y="174" width="1" height="53" fill="#00bfff"/>
<rect x="42" y="179" width="3" height="41" fill="#00bfff"/>
<rect x="47" y="174" width="1" height="32" fill="#ff0000"/>
<rect x="46" y="177" width="3" height="27" fill="#ff0000"/>
<rect x="51" y="200" width="1" height="15" fill="#00bfff"/>
<rect x="50" y="203" width="3" height="3" fill="#00bfff"/>
<rect x="55" y="185" width="1" height="28" fill="#00bfff"/>
<rect x="54" y="199" width="3" height="4" fill="#00bfff"/>
<rect x="59" y="194" width="1" height="18" fill="#ff0000"/>
<rect x="58" y="197" width="3" height="6" fill="#ff0000"/>
<rect x="63" y="186" width="1" height="20" fill="#00bfff"/>
<rect x="62" y="189" width="3" height="12" fill="#00bfff"/>
<rect x="67" y="189" width="1" height="26" fill="#ff0000"/>
<rect x="66" y="191" width="3" height="15" fill="#ff0000"/>
<rect x="71" y="197" width="1" height="36" fill="#ff0000"/>
<rect x="70" y="203" width="3" height="24" fill="#ff0000"/>
<rect x="75" y="222" width="1" height="42" fill="#ff0000"/>
<rect x="74" y="225" width="3" height="27" fill="#ff0000"/>
<rect x="79" y="248" width="1" height="19" fill="#ff0000"/>
<rect x="78" y="249" width="3" height="12" fill="#ff0000"/>
<rect x="83" y="256" width="1" height="50" fill="#ff0000"/>
<rect x="82" y="262" width="3" height="33" fill="#ff0000"/>
<rect x="87" y="288" width="1" height="30" fill="#ff0000"/>
<rect x="86" y="295" width="3" height="23" fill="#ff0000"/>
<rect x="91" y="314" width="1" height="49" fill="#ff0000"/>
<rect x="90" y="315" width="3" height="8" fill="#ff0000"/>
<rect x="95" y="315" width="1" height="32" fill="#ff0000"/>
<rect x="94" y="320" width="3" height="27" fill="#ff0000"/>
<rect x="99" y="334" width="1" height="27" fill="#00bfff"/>
<rect x="98" y="338" width="3" height="8" fill="#00bfff"/>
<rect x="103" y="302" width="1" height="48" fill="#00bfff"/>
<rect x="102" y="320" width="3" height="21" fill="#00bfff"/>
<rect x="107" y="317" width="1" height="61" fill="#ff0000"/>
<rect x="106" y="322" width="3" height="48" fill="#ff0000"/>
<rect x="111" y="349" width="1" height="66" fill="#00bfff"/>
<rect x="110" y="366" width="3" height="3" fill="#00bfff"/>
<rect x="115" y="342" width="1" height="36" fill="#00bfff"/>
<rect x="114" y="349" width="3" height="17" fill="#00bfff"/>
<rect x="119" y="346" width="1" height="23" fill="#ff0000"/>
<rect x="118" y="351" width="3" height="13" fill="#ff0000"/>
<rect x="123" y="351" width="1" height="21" fill="#ff0000"/>
<rect x="122" y="365" width="3" height="2" fill="#ff0000"/>
<rect x="127" y="342" width="1" height="24" fill="#00bfff"/>
<rect x="126" y="345" width="3" height="21" fill="#00bfff"/>
<rect x="131" y="326" width="1" height="18" fill="#00bfff"/>
<rect x="130" y="335" width="3" height="9" fill="#00bfff"/>
<rect x="135" y="332" width="1" height="15" fill="#ff0000"/>
<rect x="134" y="337" width="3" height="10" fill="#ff0000"/>
<rect x="139" y="342" width="1" height="39" fill="#ff0000"/>
<rect x="138" y="345" width="3" height="34" fill="#ff0000"/>
<rect x="143" y="366" width="1" height="29" fill="#00bfff"/>
<rect x="142" y="372" width="3" height="6" fill="#00bfff"/>
<rect x="147" y="335" width="1" height="103" fill="#ff0000"/>
<rect x="146" y="374" width="3" height="41" fill="#ff0000"/>
<rect x="151" y="394" width="1" height="21" fill="#00bfff"/>
<rect x="150" y="398" width="3" height="15" fill="#00bfff"/>
<rect x="155" y="355" width="1" height="55" fill="#ff0000"/>
<rect x="154" y="397" width="3" height="13" fill="#ff0000"/>
<rect x="159" y="401" width="1" height="28" fill="#ff0000"/>
<rect x="158" y="408" width="3" height="7" fill="#ff0000"/>
<rect x="163" y="340" width="1" height="75" fill="#00bfff"/>
<rect x="162" y="342" width="3" height="71" fill="#00bfff"/>
<rect x="167" y="319" width="1" height="37" fill="#00bfff"/>
<rect x="166" y="326" width="3" height="15" fill="#00bfff"/>
<rect x="171" y="325" width="1" height="19" fill="#ff0000"/>
<rect x="170" y="328" width="3" height="7" fill="#ff0000"/>
<rect x="175" y="305" width="1" height="36" fill="#00bfff"/>
<rect x="174" y="319" width="3" height="17" fill="#00bfff"/>
<rect x="179" y="314" width="1" height="27" fill="#00bfff"/>
<rect x="178" y="317" width="3" height="4" fill="#00bfff"/>
<rect x="183" y="300" width="1" height="24" fill="#ff0000"/>
<rect x="182" y="315" width="3" height="3" fill="#ff0000"/>
<rect x="187" y="315" width="1" height="21" fill="#ff0000"/>
<rect x="186" y="315" width="3" height="17" fill="#ff0000"/>
<rect x="191" y="331" width="1" height="21" fill="#ff0000"/>
<rect x="190" y="332" width="3" height="6" fill="#ff0000"/>
<rect x="195" y="323" width="1" height="16" fill="#00bfff"/>
<rect x="194" y="328" width="3" height="8" fill="#00bfff"/>
<rect x="199" y="322" width="1" height="54" fill="#ff0000"/>
<rect x="198" y="329" width="3" height="29" fill="#ff0000"/>
<rect x="203" y="334" width="1" height="49" fill="#00bfff"/>
<rect x="202" y="334" width="3" height="25" fill="#00bfff"/>
<rect x="207" y="335" width="1" height="40" fill="#ff0000"/>
<rect x="206" y="335" width="3" height="15" fill="#ff0000"/>
<rect x="211" y="348" width="1" height="22" fill="#ff0000"/>
<rect x="210" y="351" width="3" height="18" fill="#ff0000"/>
<rect x="215" y="369" width="1" height="49" fill="#ff0000"/>
<rect x="214" y="369" width="3" height="44" fill="#ff0000"/>
<rect x="219" y="394" width="1" height="24" fill="#00bfff"/>
<rect x="218" y="400" width="3" height="15" fill="#00bfff"/>
<rect x="223" y="394" width="1" height="15" fill="#ff0000"/>
<rect x="222" y="398" width="3" height="8" fill="#ff0000"/>
<rect x="227" y="395" width="1" height="12" fill="#00bfff"/>
<rect x="226" y="401" width="3" height="3" fill="#00bfff"/>
<rect x="231" y="398" width="1" height="20" fill="#ff0000"/>
<rect x="230" y="400" width="3" height="6" fill="#ff0000"/>
<rect x="235" y="397" width="1" height="12" fill="#00bfff"/>
<rect x="234" y="397" width="3" height="7" fill="#00bfff"/>
<rect x="239" y="397" width="1" height="18" fill="#ff0000"/>
<rect x="238" y="398" width="3" height="6" fill="#ff0000"/>
<rect x="243" y="391" width="1" height="25" fill="#00bfff"/>
<rect x="242" y="400" width="3" height="2" fill="#00bfff"/>
<rect x="247" y="394" width="1" height="28" fill="#ff0000"/>
<rect x="246" y="398" width="3" height="23" fill="#ff0000"/>
<rect x="251" y="406" width="1" height="20" fill="#ff0000"/>
<rect x="250" y="418" width="3" height="3" fill="#ff0000"/>
<rect x="255" y="412" width="1" height="38" fill="#ff0000"/>
<rect x="254" y="418" width="3" height="24" fill="#ff0000"/>
<rect x="259" y="431" width="1" height="21" fill="#ff0000"/>
<rect x="258" y="440" width="3" height="9" fill="#ff0000"/>
<rect x="263" y="429" width="1" height="21" fill="#00bfff"/>
<rect x="262" y="440" width="3" height="7" fill="#00bfff"/>
<rect x="267" y="425" width="1" height="17" fill="#00bfff"/>
<rect x="266" y="426" width="3" height="13" fill="#00bfff"/>
<rect x="271" y="401" width="1" height="29" fill="#00bfff"/>
<rect x="270" y="414" width="3" height="15" fill="#00bfff"/>
<rect x="275" y="395" width="1" height="18" fill="#00bfff"/>
<rect x="274" y="405" width="3" height="8" fill="#00bfff"/>
<rect x="279" y="398" width="1" height="14" fill="#ff0000"/>
<rect x="278" y="403" width="3" height="3" fill="#ff0000"/>
<rect x="283" y="385" width="1" height="21" fill="#00bfff"/>
<rect x="282" y="388" width="3" height="16" fill="#00bfff"/>
<rect x="287" y="388" width="1" height="16" fill="#ff0000"/>
<rect x="286" y="389" width="3" height="9" fill="#ff0000"/>
<rect x="291" y="397" width="1" height="19" fill="#ff0000"/>
<rect x="290" y="398" width="3" height="3" fill="#ff0000"/>
<rect x="295" y="322" width="1" height="104" fill="#00bfff"/>
<rect x="294" y="382" width="3" height="17" fill="#00bfff"/>
<rect x="299" y="334" width="1" height="53" fill="#00bfff"/>
<rect x="298" y="340" width="3" height="44" fill="#00bfff"/>
<rect x="303" y="337" width="1" height="27" fill="#ff0000"/>
<rect x="302" y="342" width="3" height="8" fill="#ff0000"/>
<rect x="307" y="335" width="1" height="23" fill="#00bfff"/>
<rect x="306" y="338" width="3" height="14" fill="#00bfff"/>
<rect x="311" y="331" width="1" height="15" fill="#00bfff"/>
<rect x="310" y="334" width="3" height="4" fill="#00bfff"/>
<rect x="315" y="286" width="1" height="50" fill="#00bfff"/>
<rect x="314" y="311" width="3" height="25" fill="#00bfff"/>
<rect x="319" y="309" width="1" height="20" fill="#ff0000"/>
<rect x="318" y="312" width="3" height="8" fill="#ff0000"/>
<rect x="323" y="300" width="1" height="30" fill="#00bfff"/>
<rect x="322" y="315" width="3" height="6" fill="#00bfff"/>
<rect x="327" y="274" width="1" height="29" fill="#00bfff"/>
<rect x="326" y="289" width="3" height="14" fill="#00bfff"/>
<rect x="331" y="275" width="1" height="25" fill="#ff0000"/>
<rect x="330" y="291" width="3" height="4" fill="#ff0000"/>
<rect x="335" y="280" width="1" height="16" fill="#00bfff"/>
<rect x="334" y="288" width="3" height="8" fill="#00bfff"/>
<rect x="339" y="263" width="1" height="35" fill="#00bfff"/>
<rect x="338" y="265" width="3" height="25" fill="#00bfff"/>
<rect x="343" y="246" width="1" height="20" fill="#00bfff"/>
<rect x="342" y="260" width="3" height="4" fill="#00bfff"/>
<rect x="347" y="248" width="1" height="19" fill="#00bfff"/>
<rect x="346" y="252" width="3" height="8" fill="#00bfff"/>
<rect x="351" y="248" width="1" height="10" fill="#ff0000"/>
<rect x="350" y="251" width="3" height="4" fill="#ff0000"/>
<rect x="355" y="246" width="1" height="14" fill="#00bfff"/>
<rect x="354" y="249" width="3" height="4" fill="#00bfff"/>
<rect x="359" y="239" width="1" height="21" fill="#ff0000"/>
<rect x="358" y="251" width="3" height="9" fill="#ff0000"/>
<rect x="363" y="219" width="1" height="47" fill="#00bfff"/>
<rect x="362" y="231" width="3" height="27" fill="#00bfff"/>
<rect x="367" y="231" width="1" height="13" fill="#ff0000"/>
<rect x="366" y="232" width="3" height="6" fill="#ff0000"/>
<rect x="371" y="203" width="1" height="35" fill="#00bfff"/>
<rect x="370" y="217" width="3" height="20" fill="#00bfff"/>
<rect x="375" y="217" width="1" height="21" fill="#ff0000"/>
<rect x="374" y="219" width="3" height="2" fill="#ff0000"/>
<rect x="379" y="219" width="1" height="42" fill="#ff0000"/>
<rect x="378" y="219" width="3" height="38" fill="#ff0000"/>
<rect x="383" y="239" width="1" height="21" fill="#00bfff"/>
<rect x="382" y="242" width="3" height="16" fill="#00bfff"/>
<rect x="387" y="239" width="1" height="24" fill="#ff0000"/>
<rect x="386" y="240" width="3" height="7" fill="#ff0000"/>
<rect x="391" y="243" width="1" height="37" fill="#ff0000"/>
<rect x="390" y="248" width="3" height="27" fill="#ff0000"/>
<rect x="395" y="266" width="1" height="27" fill="#ff0000"/>
<rect x="394" y="275" width="3" height="9" fill="#ff0000"/>
<rect x="399" y="279" width="1" height="17" fill="#ff0000"/>
<rect x="398" y="285" width="3" height="11" fill="#ff0000"/>
<rect x="403" y="285" width="1" height="19" fill="#ff0000"/>
<rect x="402" y="294" width="3" height="2" fill="#ff0000"/>
<rect x="407" y="297" width="1" height="16" fill="#ff0000"/>
<rect x="406" y="297" width="3" height="10" fill="#ff0000"/>
<rect x="411" y="305" width="1" height="24" fill="#ff0000"/>
<rect x="410" y="305" width="3" height="22" fill="#ff0000"/>
<rect x="415" y="320" width="1" height="9" fill="#00bfff"/>
<rect x="414" y="320" width="3" height="6" fill="#00bfff"/>
<rect x="419" y="312" width="1" height="12" fill="#00bfff"/>
<rect x="418" y="315" width="3" height="8" fill="#00bfff"/>
<rect x="423" y="300" width="1" height="18" fill="#00bfff"/>
<rect x="422" y="314" width="3" height="4" fill="#00bfff"/>
<rect x="427" y="295" width="1" height="21" fill="#00bfff"/>
<rect x="426" y="306" width="3" height="7" fill="#00bfff"/>
<rect x="431" y="297" width="1" height="27" fill="#00bfff"/>
<rect x="430" y="300" width="3" height="6" fill="#00bfff"/>
<rect x="435" y="283" width="1" height="21" fill="#00bfff"/>
<rect x="434" y="294" width="3" height="9" fill="#00bfff"/>
<rect x="439" y="286" width="1" height="17" fill="#ff0000"/>
<rect x="438" y="292" width="3" height="11" fill="#ff0000"/>
<rect x="443" y="295" width="1" height="23" fill="#ff0000"/>
<rect x="442" y="300" width="3" height="13" fill="#ff0000"/>
<rect x="447" y="308" width="1" height="30" fill="#ff0000"/>
<rect x="446" y="311" width="3" height="18" fill="#ff0000"/>
<rect x="451" y="314" width="1" height="25" fill="#00bfff"/>
<rect x="450" y="317" width="3" height="13" fill="#00bfff"/>
<rect x="455" y="317" width="1" height="32" fill="#ff0000"/>
<rect x="454" y="319" width="3" height="25" fill="#ff0000"/>
<rect x="459" y="326" width="1" height="38" fill="#ff0000"/>
<rect x="458" y="342" width="3" height="17" fill="#ff0000"/>
<rect x="463" y="338" width="1" height="34" fill="#00bfff"/>
<rect x="462" y="354" width="3" height="4" fill="#00bfff"/>
<rect x="467" y="320" width="1" height="39" fill="#00bfff"/>
<rect x="466" y="337" width="3" height="19" fill="#00bfff"/>
<rect x="471" y="317" width="1" height="24" fill="#00bfff"/>
<rect x="470" y="322" width="3" height="14" fill="#00bfff"/>
<rect x="475" y="291" width="1" height="32" fill="#00bfff"/>
<rect x="474" y="306" width="3" height="15" fill="#00bfff"/>
<rect x="479" y="286" width="1" height="24" fill="#00bfff"/>
<rect x="478" y="305" width="3" height="4" fill="#00bfff"/>
<rect x="483" y="254" width="1" height="53" fill="#00bfff"/>
<rect x="482" y="274" width="3" height="30" fill="#00bfff"/>
<rect x="487" y="257" width="1" height="21" fill="#00bfff"/>
<rect x="486" y="266" width="3" height="10" fill="#00bfff"/>
<rect x="491" y="254" width="1" height="29" fill="#00bfff"/>
<rect x="490" y="260" width="3" height="9" fill="#00bfff"/>
<rect x="495" y="223" width="1" height="40" fill="#00bfff"/>
<rect x="494" y="237" width="3" height="23" fill="#00bfff"/>
<rect x="499" y="229" width="1" height="20" fill="#ff0000"/>
<rect x="498" y="236" width="3" height="5" fill="#ff0000"/>
<rect x="503" y="203" width="1" height="41" fill="#00bfff"/>
<rect x="502" y="219" width="3" height="21" fill="#00bfff"/>
<rect x="507" y="173" width="1" height="45" fill="#00bfff"/>
<rect x="506" y="205" width="3" height="13" fill="#00bfff"/>
<rect x="511" y="197" width="1" height="50" fill="#ff0000"/>
<rect x="510" y="203" width="3" height="38" fill="#ff0000"/>
<rect x="515" y="206" width="1" height="40" fill="#00bfff"/>
<rect x="514" y="223" width="3" height="20" fill="#00bfff"/>
<rect x="519" y="220" width="1" height="20" fill="#00bfff"/>
<rect x="518" y="222" width="3" height="4" fill="#00bfff"/>
<rect x="523" y="196" width="1" height="30" fill="#00bfff"/>
<rect x="522" y="202" width="3" height="22" fill="#00bfff"/>
<rect x="527" y="199" width="1" height="34" fill="#ff0000"/>
<rect x="526" y="200" width="3" height="21" fill="#ff0000"/>
<rect x="531" y="203" width="1" height="24" fill="#00bfff"/>
<rect x="530" y="216" width="3" height="7" fill="#00bfff"/>
<rect x="535" y="186" width="1" height="31" fill="#00bfff"/>
<rect x="534" y="208" width="3" height="7" fill="#00bfff"/>
<rect x="539" y="191" width="1" height="18" fill="#00bfff"/>
<rect x="538" y="205" width="3" height="2" fill="#00bfff"/>
<rect x="543" y="197" width="1" height="23" fill="#00bfff"/>
<rect x="542" y="202" width="3" height="2" fill="#00bfff"/>
<rect x="547" y="169" width="1" height="37" fill="#00bfff"/>
<rect x="546" y="179" width="3" height="25" fill="#00bfff"/>
<rect x="551" y="159" width="1" height="22" fill="#00bfff"/>
<rect x="550" y="174" width="3" height="7" fill="#00bfff"/>
<rect x="555" y="131" width="1" height="46" fill="#00bfff"/>
<rect x="554" y="136" width="3" height="38" fill="#00bfff"/>
<rect x="559" y="137" width="1" height="33" fill="#ff0000"/>
<rect x="558" y="137" width="3" height="23" fill="#ff0000"/>
<rect x="563" y="142" width="1" height="39" fill="#00bfff"/>
<rect x="562" y="143" width="3" height="15" fill="#00bfff"/>
<rect x="567" y="116" width="1" height="30" fill="#00bfff"/>
<rect x="566" y="133" width="3" height="13" fill="#00bfff"/>
<rect x="571" y="117" width="1" height="38" fill="#ff0000"/>
<rect x="570" y="134" width="3" height="15" fill="#ff0000"/>
<rect x="575" y="139" width="1" height="16" fill="#000000"/>
<rect x="574" y="149" width="3" height="1" fill="#000000"/>
<rect x="579" y="100" width="1" height="50" fill="#00bfff"/>
<rect x="578" y="122" width="3" height="27" fill="#00bfff"/>
<rect x="583" y="114" width="1" height="26" fill="#ff0000"/>
<rect x="582" y="120" width="3" height="3" fill="#ff0000"/>
<rect x="587" y="74" width="1" height="47" fill="#00bfff"/>
<rect x="586" y="91" width="3" height="30" fill="#00bfff"/>
<rect x="591" y="82" width="1" height="19" fill="#00bfff"/>
<rect x="590" y="90" width="3" height="4" fill="#00bfff"/>
<rect x="595" y="85" width="1" height="26" fill="#ff0000"/>
<rect x="594" y="88" width="3" height="23" fill="#ff0000"/>
<rect x="599" y="102" width="1" height="35" fill="#ff0000"/>
<rect x="598" y="108" width="3" height="23" fill="#ff0000"/>
<rect x="603" y="122" width="1" height="21" fill="#00bfff"/>
<rect x="602" y="130" width="3" height="2" fill="#00bfff"/>
<rect x="607" y="120" width="1" height="17" fill="#00bfff"/>
<rect x="606" y="120" width="3" height="9" fill="#00bfff"/>
<rect x="611" y="102" width="1" height="22" fill="#00bfff"/>
<rect x="610" y="116" width="3" height="7" fill="#00bfff"/>
<rect x="615" y="110" width="1" height="33" fill="#ff0000"/>
<rect x="614" y="117" width="3" height="21" fill="#ff0000"/>
<rect x="619" y="122" width="1" height="21" fill="#ff0000"/>
<rect x="618" y="139" width="3" height="2" fill="#ff0000"/>
<rect x="623" y="119" width="1" height="25" fill="#00bfff"/>
<rect x="622" y="137" width="3" height="6" fill="#00bfff"/>
<rect x="627" y="114" width="1" height="29" fill="#00bfff"/>
<rect x="626" y="119" width="3" height="21" fill="#00bfff"/>
<rect x="631" y="106" width="1" height="69" fill="#ff0000"/>
<rect x="630" y="120" width="3" height="23" fill="#ff0000"/>
<rect x="635" y="131" width="1" height="27" fill="#00bfff"/>
<rect x="634" y="133" width="3" height="11" fill="#00bfff"/>
<rect x="639" y="117" width="1" height="20" fill="#00bfff"/>
<rect x="638" y="120" width="3" height="12" fill="#00bfff"/>
<rect x="643" y="116" width="1" height="28" fill="#000000"/>
<rect x="642" y="122" width="3" height="1" fill="#000000"/>
<rect x="647" y="113" width="1" height="22" fill="#ff0000"/>
<rect x="646" y="123" width="3" height="8" fill="#ff0000"/>
<rect x="651" y="113" width="1" height="21" fill="#00bfff"/>
<rect x="650" y="117" width="3" height="15" fill="#00bfff"/>
<rect x="655" y="70" width="1" height="48" fill="#00bfff"/>
<rect x="654" y="73" width="3" height="44" fill="#00bfff"/>
<rect x="659" y="60" width="1" height="23" fill="#00bfff"/>
<rect x="658" y="67" width="3" height="5" fill="#00bfff"/>
<rect x="663" y="39" width="1" height="30" fill="#00bfff"/>
<rect x="662" y="47" width="3" height="22" fill="#00bfff"/>
<rect x="667" y="43" width="1" height="35" fill="#ff0000"/>
<rect x="666" y="45" width="3" height="32" fill="#ff0000"/>
<rect x="671" y="63" width="1" height="23" fill="#00bfff"/>
<rect x="670" y="76" width="3" height="2" fill="#00bfff"/>
<rect x="675" y="54" width="1" height="35" fill="#ff0000"/>
<rect x="674" y="75" width="3" height="2" fill="#ff0000"/>
<rect x="679" y="71" width="1" height="20" fill="#ff0000"/>
<rect x="678" y="75" width="3" height="6" fill="#ff0000"/>
<rect x="683" y="68" width="1" height="21" fill="#00bfff"/>
<rect x="682" y="76" width="3" height="7" fill="#00bfff"/>
<rect x="687" y="60" width="1" height="32" fill="#ff0000"/>
<rect x="686" y="75" width="3" height="9" fill="#ff0000"/>
<rect x="691" y="83" width="1" height="28" fill="#ff0000"/>
<rect x="690" y="85" width="3" height="21" fill="#ff0000"/>
<rect x="695" y="99" width="1" height="21" fill="#00bfff"/>
<rect x="694" y="103" width="3" height="4" fill="#00bfff"/>
<rect x="699" y="90" width="1" height="16" fill="#00bfff"/>
<rect x="698" y="90" width="3" height="13" fill="#00bfff"/>
<rect x="703" y="91" width="1" height="16" fill="#ff0000"/>
<rect x="702" y="91" width="3" height="13" fill="#ff0000"/>
<rect x="707" y="100" width="1" height="14" fill="#ff0000"/>
<rect x="706" y="102" width="3" height="10" fill="#ff0000"/>
<rect x="711" y="111" width="1" height="32" fill="#ff0000"/>
<rect x="710" y="113" width="3" height="22" fill="#ff0000"/>
<rect x="715" y="122" width="1" height="13" fill="#00bfff"/>
<rect x="714" y="131" width="3" height="3" fill="#00bfff"/>
<rect x="719" y="119" width="1" height="35" fill="#ff0000"/>
<rect x="718" y="133" width="3" height="11" fill="#ff0000"/>
<rect x="723" y="123" width="1" height="26" fill="#00bfff"/>
<rect x="722" y="131" width="3" height="15" fill="#00bfff"/>
<rect x="727" y="128" width="1" height="35" fill="#ff0000"/>
<rect x="726" y="130" width="3" height="27" fill="#ff0000"/>
<rect x="731" y="149" width="1" height="17" fill="#ff0000"/>
<rect x="730" y="154" width="3" height="10" fill="#ff0000"/>
<rect x="735" y="154" width="1" height="10" fill="#00bfff"/>
<rect x="734" y="160" width="3" height="3" fill="#00bfff"/>
</g>
<g id="hist">
<rect x="2" y="528" width="3" height="2" fill="#696969"/>
<rect x="6" y="525" width="3" height="5" fill="#696969"/>
<rect x="10" y="526" width="3" height="4" fill="#696969"/>
<rect x="14" y="522" width="3" height="8" fill="#696969"/>
<rect x="18" y="520" width="3" height="10" fill="#696969"/>
<rect x="22" y="517" width="3" height="13" fill="#696969"/>
<rect x="26" y="515" width="3" height="15" fill="#696969"/>
<rect x="30" y="514" width="3" height="16" fill="#696969"/>
<rect x="34" y="514" width="3" height="16" fill="#696969"/>
<rect x="38" y="508" width="3" height="22" fill="#696969"/>
<rect x="42" y="499" width="3" height="31" fill="#696969"/>
<rect x="46" y="495" width="3" height="35" fill="#696969"/>
<rect x="50" y="493" width="3" height="37" fill="#696969"/>
<rect x="54" y="490" width="3" height="40" fill="#696969"/>
<rect x="58" y="490" width="3" height="40" fill="#696969"/>
<rect x="62" y="488" width="3" height="42" fill="#696969"/>
<rect x="66" y="489" width="3" height="41" fill="#696969"/>
<rect x="70" y="492" width="3" height="38" fill="#696969"/>
<rect x="74" y="498" width="3" height="32" fill="#696969"/>
<rect x="78" y="505" width="3" height="25" fill="#696969"/>
<rect x="82" y="513" width="3" height="17" fill="#696969"/>
<rect x="86" y="523" width="3" height="7" fill="#696969"/>
<rect x="90" y="530" width="3" height="2" fill="#696969"/>
<rect x="94" y="530" width="3" height="12" fill="#696969"/>
<rect x="98" y="530" width="3" height="18" fill="#696969"/>
<rect x="102" y="530" width="3" height="21" fill="#696969"/>
<rect x="106" y="530" width="3" height="28" fill="#696969"/>
<rect x="110" y="530" width="3" height="33" fill="#696969"/>
<rect x="114" y="530" width="3" height="35" fill="#696969"/>
<rect x="118" y="530" width="3" height="37" fill="#696969"/>
<rect x="122" y="530" width="3" height="39" fill="#696969"/>
<rect x="126" y="530" width="3" height="38" fill="#696969"/>
<rect x="130" y="530" width="3" height="35" fill="#696969"/>
<rect x="134" y="530" width="3" height="34" fill="#696969"/>
<rect x="138" y="530" width="3" height="37" fill="#696969"/>
<rect x="142" y="530" width="3" height="37" fill="#696969"/>
<rect x="146" y="530" width="3" height="42" fill="#696969"/>
<rect x="150" y="530" width="3" height="44" fill="#696969"/>
<rect x="154" y="530" width="3" height="45" fill="#696969"/>
<rect x="158" y="530" width="3" height="42" fill="#696969"/>
<rect x="162" y="530" width="3" height="39" fill="#696969"/>
<rect x="166" y="530" width="3" height="32" fill="#696969"/>
<rect x="170" y="530" width="3" height="26" fill="#696969"/>
<rect x="174" y="530" width="3" height="20" fill="#696969"/>
<rect x="178" y="530" width="3" height="14" fill="#696969"/>
<rect x="182" y="530" width="3" height="10" fill="#696969"/>
<rect x="186" y="530" width="3" height="8" fill="#696969"/>
<rect x="190" y="530" width="3" height="7" fill="#696969"/>
<rect x="194" y="530" width="3" height="5" fill="#696969"/>
<rect x="198" y="530" width="3" height="7" fill="#696969"/>
<rect x="202" y="530" width="3" height="6" fill="#696969"/>
<rect x="206" y="530" width="3" height="6" fill="#696969"/>
<rect x="210" y="530" width="3" height="9" fill="#696969"/>
<rect x="214" y="530" width="3" height="16" fill="#696969"/>
<rect x="218" y="530" width="3" height="20" fill="#696969"/>
<rect x="222" y="530" width="3" height="23" fill="#696969"/>
<rect x="226" y="530" width="3" height="25" fill="#696969"/>
<rect x="230" y="530" width="3" height="27" fill="#696969"/>
<rect x="234" y="530" width="3" height="27" fill="#696969"/>
<rect x="238" y="530" width="3" height="27" fill="#696969"/>
<rect x="242" y="530" width="3" height="27" fill="#696969"/>
<rect x="246" y="530" width="3" height="29" fill="#696969"/>
<rect x="250" y="530" width="3" height="30" fill="#696969"/>
<rect x="254" y="530" width="3" height="33" fill="#696969"/>
<rect x="258" y="530" width="3" height="36" fill="#696969"/>
<rect x="262" y="530" width="3" height="36" fill="#696969"/>
<rect x="266" y="530" width="3" height="35" fill="#696969"/>
<rect x="270" y="530" width="3" height="32" fill="#696969"/>
<rect x="274" y="530" width="3" height="29" fill="#696969"/>
<rect x="278" y="530" width="3" height="26" fill="#696969"/>
<rect x="282" y="530" width="3" height="21" fill="#696969"/>
<rect x="286" y="530" width="3" height="18" fill="#696969"/>
<rect x="290" y="530" width="3" height="16" fill="#696969"/>
<rect x="294" y="530" width="3" height="12" fill="#696969"/>
<rect x="298" y="530" width="3" height="4" fill="#696969"/>
<rect x="302" y="528" width="3" height="2" fill="#696969"/>
<rect x="306" y="523" width="3" height="7" fill="#696969"/>
<rect x="310" y="519" width="3" height="11" fill="#696969"/>
<rect x="314" y="513" width="3" height="17" fill="#696969"/>
<rect x="318" y="509" width="3" height="21" fill="#696969"/>
<rect x="322" y="506" width="3" height="24" fill="#696969"/>
<rect x="326" y="501" width="3" height="29" fill="#696969"/>
<rect x="330" y="498" width="3" height="32" fill="#696969"/>
<rect x="334" y="495" width="3" height="35" fill="#696969"/>
<rect x="338" y="491" width="3" height="39" fill="#696969"/>
<rect x="342" y="488" width="3" height="42" fill="#696969"/>
<rect x="346" y="485" width="3" height="45" fill="#696969"/>
<rect x="350" y="483" width="3" height="47" fill="#696969"/>
<rect x="354" y="482" width="3" height="48" fill="#696969"/>
<rect x="358" y="482" width="3" height="48" fill="#696969"/>
<rect x="362" y="480" width="3" height="50" fill="#696969"/>
<rect x="366" y="480" width="3" height="50" fill="#696969"/>
<rect x="370" y="478" width="3" height="52" fill="#696969"/>
<rect x="374" y="477" width="3" height="53" fill="#696969"/>
<rect x="378" y="481" width="3" height="49" fill="#696969"/>
<rect x="382" y="483" width="3" height="47" fill="#696969"/>
<rect x="386" y="486" width="3" height="44" fill="#696969"/>
<rect x="390" y="492" width="3" height="38" fill="#696969"/>
<rect x="394" y="498" width="3" height="32" fill="#696969"/>
<rect x="398" y="504" width="3" height="26" fill="#696969"/>
<rect x="402" y="510" width="3" height="20" fill="#696969"/>
<rect x="406" y="515" width="3" height="15" fill="#696969"/>
<rect x="410" y="522" width="3" height="8" fill="#696969"/>
<rect x="414" y="527" width="3" height="3" fill="#696969"/>
<rect x="418" y="530" width="3" height="1" fill="#696969"/>
<rect x="422" y="530" width="3" height="4" fill="#696969"/>
<rect x="426" y="530" width="3" height="5" fill="#696969"/>
<rect x="430" y="530" width="3" height="5" fill="#696969"/>
<rect x="434" y="530" width="3" height="4" fill="#696969"/>
<rect x="438" y="530" width="3" height="4" fill="#696969"/>
<rect x="442" y="530" width="3" height="6" fill="#696969"/>
<rect x="446" y="530" width="3" height="8" fill="#696969"/>
<rect x="450" y="530" width="3" height="9" fill="#696969"/>
<rect x="454" y="530" width="3" height="13" fill="#696969"/>
<rect x="458" y="530" width="3" height="17" fill="#696969"/>
<rect x="462" y="530" width="3" height="20" fill="#696969"/>
<rect x="466" y="530" width="3" height="20" fill="#696969"/>
<rect x="470" y="530" width="3" height="18" fill="#696969"/>
<rect x="474" y="530" width="3" height="15" fill="#696969"/>
<rect x="478" y="530" width="3" height="12" fill="#696969"/>
<rect x="482" y="530" width="3" height="6" fill="#696969"/>
<rect x="486" y="529" width="3" height="1" fill="#696969"/>
<rect x="490" y="524" width="3" height="6" fill="#696969"/>
<rect x="494" y="518" width="3" height="12" fill="#696969"/>
<rect x="498" y="513" width="3" height="17" fill="#696969"/>
<rect x="502" y="507" width="3" height="23" fill="#696969"/>
<rect x="506" y="501" width="3" height="29" fill="#696969"/>
<rect x="510" y="501" width="3" height="29" fill="#696969"/>
<rect x="514" y="499" width="3" height="31" fill="#696969"/>
<rect x="518" y="498" width="3" height="32" fill="#696969"/>
<rect x="522" y="495" width="3" height="35" fill="#696969"/>
<rect x="526" y="496" width="3" height="34" fill="#696969"/>
<rect x="530" y="496" width="3" height="34" fill="#696969"/>
<rect x="534" y="495" width="3" height="35" fill="#696969"/>
<rect x="538" y="495" width="3" height="35" fill="#696969"/>
<rect x="542" y="495" width="3" height="35" fill="#696969"/>
<rect x="546" y="493" width="3" height="37" fill="#696969"/>
<rect x="550" y="491" width="3" height="39" fill="#696969"/>
<rect x="554" y="485" width="3" height="45" fill="#696969"/>
<rect x="558" y="484" width="3" height="46" fill="#696969"/>
<rect x="562" y="482" width="3" height="48" fill="#696969"/>
<rect x="566" y="480" width="3" height="50" fill="#696969"/>
<rect x="570" y="481" width="3" height="49" fill="#696969"/>
<rect x="574" y="482" width="3" height="48" fill="#696969"/>
<rect x="578" y="480" width="3" height="50" fill="#696969"/>
<rect x="582" y="479" width="3" height="51" fill="#696969"/>
<rect x="586" y="476" width="3" height="54" fill="#696969"/>
<rect x="590" y="474" width="3" height="56" fill="#696969"/>
<rect x="594" y="475" width="3" height="55" fill="#696969"/>
<rect x="598" y="479" width="3" height="51" fill="#696969"/>
<rect x="602" y="482" width="3" height="48" fill="#696969"/>
<rect x="606" y="484" width="3" height="46" fill="#696969"/>
<rect x="610" y="486" width="3" height="44" fill="#696969"/>
<rect x="614" y="491" width="3" height="39" fill="#696969"/>
<rect x="618" y="495" width="3" height="35" fill="#696969"/>
<rect x="622" y="498" width="3" height="32" fill="#696969"/>
<rect x="626" y="499" width="3" height="31" fill="#696969"/>
<rect x="630" y="503" width="3" height="27" fill="#696969"/>
<rect x="634" y="505" width="3" height="25" fill="#696969"/>
<rect x="638" y="505" width="3" height="25" fill="#696969"/>
<rect x="642" y="506" width="3" height="24" fill="#696969"/>
<rect x="646" y="508" width="3" height="22" fill="#696969"/>
<rect x="650" y="509" width="3" height="21" fill="#696969"/>
<rect x="654" y="505" width="3" height="25" fill="#696969"/>
<rect x="658" y="500" width="3" height="30" fill="#696969"/>
<rect x="662" y="495" width="3" height="35" fill="#696969"/>
<rect x="666" y="495" width="3" height="35" fill="#696969"/>
<rect x="670" y="495" width="3" height="35" fill="#696969"/>
<rect x="674" y="496" width="3" height="34" fill="#696969"/>
<rect x="678" y="497" width="3" height="33" fill="#696969"/>
<rect x="682" y="498" width="3" height="32" fill="#696969"/>
<rect x="686" y="500" width="3" height="30" fill="#696969"/>
<rect x="690" y="504" width="3" height="26" fill="#696969"/>
<rect x="694" y="508" width="3" height="22" fill="#696969"/>
<rect x="698" y="509" width="3" height="21" fill="#696969"/>
<rect x="702" y="512" width="3" height="18" fill="#696969"/>
<rect x="706" y="516" width="3" height="14" fill="#696969"/>
<rect x="710" y="521" width="3" height="9" fill="#696969"/>
<rect x="714" y="525" width="3" height="5" fill="#696969"/>
<rect x="718" y="530" width="3" height="1" fill="#696969"/>
<rect x="722" y="530" width="3" height="3" fill="#696969"/>
<rect x="726" y="530" width="3" height="7" fill="#696969"/>
<rect x="730" y="530" width="3" height="12" fill="#696969"/>
<rect x="734" y="530" width="3" height="14" fill="#696969"/>
</g>
<g id="sig">
<rect x="3" y="540" width="2" height="1" fill="#ff0000"/>
<rect x="5" y="539" width="1" height="1" fill="#ff0000"/>
<rect x="9" y="537" width="1" height="1" fill="#ff0000"/>
<rect x="10" y="536" width="1" height="1" fill="#ff0000"/>
<rect x="11" y="535" width="1" height="1" fill="#ff0000"/>
<rect x="15" y="533" width="1" height="1" fill="#ff0000"/>
<rect x="16" y="532" width="2" height="1" fill="#ff0000"/>
<rect x="21" y="529" width="1" height="1" fill="#ff0000"/>
<rect x="22" y="528" width="1" height="1" fill="#ff0000"/>
<rect x="23" y="527" width="1" height="1" fill="#ff0000"/>
<rect x="27" y="525" width="1" height="1" fill="#ff0000"/>
<rect x="28" y="524" width="2" height="1" fill="#ff0000"/>
<rect x="33" y="521" width="2" height="1" fill="#ff0000"/>
<rect x="35" y="520" width="1" height="1" fill="#ff0000"/>
<rect x="39" y="518" width="1" height="1" fill="#ff0000"/>
<rect x="40" y="517" width="2" height="1" fill="#ff0000"/>
<rect x="45" y="513" width="1" height="1" fill="#ff0000"/>
<rect x="46" y="512" width="1" height="1" fill="#ff0000"/>
<rect x="47" y="511" width="1" height="1" fill="#ff0000"/>
<rect x="51" y="508" width="1" height="1" fill="#ff0000"/>
<rect x="52" y="507" width="2" height="1" fill="#ff0000"/>
<rect x="57" y="504" width="1" height="1" fill="#ff0000"/>
<rect x="58" y="503" width="1" height="1" fill="#ff0000"/>
<rect x="59" y="502" width="1" height="1" fill="#ff0000"/>
<rect x="63" y="499" width="1" height="1" fill="#ff0000"/>
<rect x="64" y="498" width="2" height="1" fill="#ff0000"/>
<rect x="69" y="495" width="2" height="1" fill="#ff0000"/>
<rect x="71" y="494" width="1" height="1" fill="#ff0000"/>
<rect x="75" y="492" width="3" height="1" fill="#ff0000"/>
<rect x="81" y="494" width="2" height="1" fill="#ff0000"/>
<rect x="83" y="495" width="1" height="1" fill="#ff0000"/>
<rect x="87" y="498" width="1" height="1" fill="#ff0000"/>
<rect x="88" y="499" width="1" height="1" fill="#ff0000"/>
<rect x="89" y="500" width="1" height="1" fill="#ff0000"/>
<rect x="92" y="504" width="1" height="1" fill="#ff0000"/>
<rect x="92" y="505" width="1" height="1" fill="#ff0000"/>
<rect x="93" y="506" width="1" height="1" fill="#ff0000"/>
<rect x="96" y="510" width="1" height="1" fill="#ff0000"/>
<rect x="96" y="511" width="1" height="1" fill="#ff0000"/>
<rect x="97" y="512" width="1" height="1" fill="#ff0000"/>
<rect x="100" y="516" width="1" height="1" fill="#ff0000"/>
<rect x="100" y="517" width="1" height="1" fill="#ff0000"/>
<rect x="101" y="518" width="1" height="1" fill="#ff0000"/>
<rect x="103" y="522" width="1" height="1" fill="#ff0000"/>
<rect x="104" y="523" width="1" height="1" fill="#ff0000"/>
<rect x="104" y="524" width="1" height="1" fill="#ff0000"/>
<rect x="106" y="528" width="1" height="1" fill="#ff0000"/>
<rect x="107" y="529" width="1" height="1" fill="#ff0000"/>
<rect x="108" y="530" width="1" height="1" fill="#ff0000"/>
<rect x="110" y="534" width="1" height="1" fill="#ff0000"/>
<rect x="110" y="535" width="1" height="1" fill="#ff0000"/>
<rect x="111" y="536" width="1" height="1" fill="#ff0000"/>
<rect x="113" y="540" width="1" height="1" fill="#ff0000"/>
<rect x="114" y="541" width="1" height="1" fill="#ff0000"/>
<rect x="114" y="542" width="1" height="1" fill="#ff0000"/>
<rect x="117" y="546" width="1" height="1" fill="#ff0000"/>
<rect x="118" y="547" width="1" height="1" fill="#ff0000"/>
<rect x="118" y="548" width="1" height="1" fill="#ff0000"/>
<rect x="121" y="552" width="1" height="1" fill="#ff0000"/>
<rect x="122" y="553" width="1" height="1" fill="#ff0000"/>
<rect x="123" y="554" width="1" height="1" fill="#ff0000"/>
<rect x="127" y="558" width="2" height="1" fill="#ff0000"/>
<rect x="129" y="559" width="1" height="1" fill="#ff0000"/>
<rect x="133" y="561" width="2" height="1" fill="#ff0000"/>
<rect x="135" y="562" width="1" height="1" fill="#ff0000"/>
<rect x="139" y="564" width="3" height="1" fill="#ff0000"/>
<rect x="145" y="565" width="1" height="1" fill="#ff0000"/>
<rect x="146" y="566" width="2" height="1" fill="#ff0000"/>
<rect x="151" y="567" width="3" height="1" fill="#ff0000"/>
<rect x="157" y="568" width="3" height="1" fill="#ff0000"/>
<rect x="163" y="568" width="3" height="1" fill="#ff0000"/>
<rect x="169" y="568" width="1" height="1" fill="#ff0000"/>
<rect x="170" y="567" width="2" height="1" fill="#ff0000"/>
<rect x="175" y="565" width="2" height="1" fill="#ff0000"/>
<rect x="177" y="564" width="1" height="1" fill="#ff0000"/>
<rect x="181" y="561" width="1" height="1" fill="#ff0000"/>
<rect x="182" y="560" width="1" height="1" fill="#ff0000"/>
<rect x="183" y="559" width="1" height="1" fill="#ff0000"/>
<rect x="187" y="555" width="1" height="1" fill="#ff0000"/>
<rect x="188" y="554" width="1" height="1" fill="#ff0000"/>
<rect x="189" y="553" width="1" height="1" fill="#ff0000"/>
<rect x="193" y="549" width="1" height="1" fill="#ff0000"/>
<rect x="194" y="548" width="1" height="1" fill="#ff0000"/>
<rect x="195" y="547" width="1" height="1" fill="#ff0000"/>
<rect x="199" y="543" width="1" height="1" fill="#ff0000"/>
<rect x="200" y="542" width="2" height="1" fill="#ff0000"/>
<rect x="205" y="539" width="2" height="1" fill="#ff0000"/>
<rect x="207" y="538" width="1" height="1" fill="#ff0000"/>
<rect x="211" y="537" width="3" height="1" fill="#ff0000"/>
<rect x="217" y="537" width="1" height="1" fill="#ff0000"/>
<rect x="218" y="538" width="2" height="1" fill="#ff0000"/>
<rect x="223" y="540" width="2" height="1" fill="#ff0000"/>
<rect x="225" y="541" width="1" height="1" fill="#ff0000"/>
<rect x="229" y="543" width="2" height="1" fill="#ff0000"/>
<rect x="231" y="544" width="1" height="1" fill="#ff0000"/>
<rect x="235" y="546" width="1" height="1" fill="#ff0000"/>
<rect x="236" y="547" width="2" height="1" fill="#ff0000"/>
<rect x="241" y="550" width="2" height="1" fill="#ff0000"/>
<rect x="243" y="551" width="1" height="1" fill="#ff0000"/>
<rect x="247" y="553" width="2" height="1" fill="#ff0000"/>
<rect x="249" y="554" width="1" height="1" fill="#ff0000"/>
<rect x="253" y="555" width="1" height="1" fill="#ff0000"/>
<rect x="254" y="556" width="2" height="1" fill="#ff0000"/>
<rect x="259" y="558" width="3" height="1" fill="#ff0000"/>
<rect x="265" y="559" width="1" height="1" fill="#ff0000"/>
<rect x="266" y="560" width="2" height="1" fill="#ff0000"/>
<rect x="271" y="560" width="3" height="1" fill="#ff0000"/>
<rect x="277" y="561" width="3" height="1" fill="#ff0000"/>
<rect x="283" y="560" width="2" height="1" fill="#ff0000"/>
<rect x="285" y="559" width="1" height="1" fill="#ff0000"/>
<rect x="289" y="557" width="2" height="1" fill="#ff0000"/>
<rect x="291" y="556" width="1" height="1" fill="#ff0000"/>
<rect x="295" y="554" width="1" height="1" fill="#ff0000"/>
<rect x="296" y="553" width="1" height="1" fill="#ff0000"/>
<rect x="297" y="552" width="1" height="1" fill="#ff0000"/>
<rect x="301" y="548" width="1" height="1" fill="#ff0000"/>
<rect x="302" y="547" width="1" height="1" fill="#ff0000"/>
<rect x="303" y="546" width="1" height="1" fill="#ff0000"/>
<rect x="307" y="542" width="1" height="1" fill="#ff0000"/>
<rect x="308" y="541" width="1" height="1" fill="#ff0000"/>
<rect x="309" y="540" width="1" height="1" fill="#ff0000"/>
<rect x="313" y="536" width="1" height="1" fill="#ff0000"/>
<rect x="313" y="535" width="1" height="1" fill="#ff0000"/>
<rect x="314" y="534" width="1" height="1" fill="#ff0000"/>
<rect x="317" y="530" width="1" height="1" fill="#ff0000"/>
<rect x="318" y="529" width="1" height="1" fill="#ff0000"/>
<rect x="319" y="528" width="1" height="1" fill="#ff0000"/>
<rect x="323" y="524" width="1" height="1" fill="#ff0000"/>
<rect x="324" y="523" width="1" height="1" fill="#ff0000"/>
<rect x="325" y="522" width="1" height="1" fill="#ff0000"/>
<rect x="328" y="518" width="1" height="1" fill="#ff0000"/>
<rect x="329" y="517" width="1" height="1" fill="#ff0000"/>
<rect x="329" y="516" width="1" height="1" fill="#ff0000"/>
<rect x="333" y="512" width="1" height="1" fill="#ff0000"/>
<rect x="334" y="511" width="1" height="1" fill="#ff0000"/>
<rect x="335" y="510" width="1" height="1" fill="#ff0000"/>
<rect x="339" y="506" width="1" height="1" fill="#ff0000"/>
<rect x="340" y="505" width="1" height="1" fill="#ff0000"/>
<rect x="341" y="504" width="1" height="1" fill="#ff0000"/>
<rect x="345" y="500" width="1" height="1" fill="#ff0000"/>
<rect x="346" y="499" width="1" height="1" fill="#ff0000"/>
<rect x="347" y="498" width="1" height="1" fill="#ff0000"/>
<rect x="351" y="495" width="1" height="1" fill="#ff0000"/>
<rect x="352" y="494" width="2" height="1" fill="#ff0000"/>
<rect x="357" y="491" width="1" height="1" fill="#ff0000"/>
<rect x="358" y="490" width="1" height="1" fill="#ff0000"/>
<rect x="359" y="489" width="1" height="1" fill="#ff0000"/>
<rect x="363" y="487" width="2" height="1" fill="#ff0000"/>
<rect x="365" y="486" width="1" height="1" fill="#ff0000"/>
<rect x="369" y="484" width="2" height="1" fill="#ff0000"/>
<rect x="371" y="483" width="1" height="1" fill="#ff0000"/>
<rect x="375" y="481" width="3" height="1" fill="#ff0000"/>
<rect x="381" y="481" width="1" height="1" fill="#ff0000"/>
<rect x="382" y="480" width="2" height="1" fill="#ff0000"/>
<rect x="387" y="481" width="3" height="1" fill="#ff0000"/>
<rect x="393" y="483" width="2" height="1" fill="#ff0000"/>
<rect x="395" y="484" width="1" height="1" fill="#ff0000"/>
<rect x="399" y="486" width="1" height="1" fill="#ff0000"/>
<rect x="400" y="487" width="1" height="1" fill="#ff0000"/>
<rect x="401" y="488" width="1" height="1" fill="#ff0000"/>
<rect x="405" y="492" width="1" height="1" fill="#ff0000"/>
<rect x="406" y="493" width="1" height="1" fill="#ff0000"/>
<rect x="407" y="494" width="1" height="1" fill="#ff0000"/>
<rect x="410" y="498" width="1" height="1" fill="#ff0000"/>
<rect x="411" y="499" width="1" height="1" fill="#ff0000"/>
<rect x="412" y="500" width="1" height="1" fill="#ff0000"/>
<rect x="415" y="504" width="1" height="1" fill="#ff0000"/>
<rect x="416" y="505" width="1" height="1" fill="#ff0000"/>
<rect x="417" y="506" width="1" height="1" fill="#ff0000"/>
<rect x="420" y="510" width="1" height="1" fill="#ff0000"/>
<rect x="421" y="511" width="1" height="1" fill="#ff0000"/>
<rect x="421" y="512" width="1" height="1" fill="#ff0000"/>
<rect x="425" y="516" width="1" height="1" fill="#ff0000"/>
<rect x="425" y="517" width="1" height="1" fill="#ff0000"/>
<rect x="426" y="518" width="1" height="1" fill="#ff0000"/>
<rect x="430" y="522" width="1" height="1" fill="#ff0000"/>
<rect x="431" y="523" width="1" height="1" fill="#ff0000"/>
<rect x="432" y="524" width="1" height="1" fill="#ff0000"/>
<rect x="436" y="527" width="2" height="1" fill="#ff0000"/>
<rect x="438" y="528" width="1" height="1" fill="#ff0000"/>
<rect x="442" y="530" width="1" height="1" fill="#ff0000"/>
<rect x="443" y="531" width="2" height="1" fill="#ff0000"/>
<rect x="448" y="533" width="2" height="1" fill="#ff0000"/>
<rect x="450" y="534" width="1" height="1" fill="#ff0000"/>
<rect x="454" y="535" width="3" height="1" fill="#ff0000"/>
<rect x="460" y="537" width="2" height="1" fill="#ff0000"/>
<rect x="462" y="538" width="1" height="1" fill="#ff0000"/>
<rect x="466" y="539" width="1" height="1" fill="#ff0000"/>
<rect x="467" y="540" width="2" height="1" fill="#ff0000"/>
<rect x="472" y="542" width="2" height="1" fill="#ff0000"/>
<rect x="474" y="543" width="1" height="1" fill="#ff0000"/>
<rect x="478" y="543" width="3" height="1" fill="#ff0000"/>
<rect x="484" y="543" width="2" height="1" fill="#ff0000"/>
<rect x="486" y="542" width="1" height="1" fill="#ff0000"/>
<rect x="490" y="541" width="1" height="1" fill="#ff0000"/>
<rect x="491" y="540" width="1" height="1" fill="#ff0000"/>
<rect x="492" y="539" width="1" height="1" fill="#ff0000"/>
<rect x="496" y="536" width="1" height="1" fill="#ff0000"/>
<rect x="497" y="535" width="1" height="1" fill="#ff0000"/>
<rect x="498" y="534" width="1" height="1" fill="#ff0000"/>
<rect x="501" y="530" width="1" height="1" fill="#ff0000"/>
<rect x="502" y="529" width="1" height="1" fill="#ff0000"/>
<rect x="503" y="528" width="1" height="1" fill="#ff0000"/>
<rect x="506" y="524" width="1" height="1" fill="#ff0000"/>
<rect x="507" y="523" width="1" height="1" fill="#ff0000"/>
<rect x="508" y="522" width="1" height="1" fill="#ff0000"/>
<rect x="512" y="518" width="1" height="1" fill="#ff0000"/>
<rect x="513" y="517" width="1" height="1" fill="#ff0000"/>
<rect x="513" y="516" width="1" height="1" fill="#ff0000"/>
<rect x="517" y="512" width="1" height="1" fill="#ff0000"/>
<rect x="518" y="511" width="1" height="1" fill="#ff0000"/>
<rect x="519" y="510" width="1" height="1" fill="#ff0000"/>
<rect x="523" y="506" width="1" height="1" fill="#ff0000"/>
<rect x="524" y="505" width="2" height="1" fill="#ff0000"/>
<rect x="529" y="502" width="1" height="1" fill="#ff0000"/>
<rect x="530" y="501" width="1" height="1" fill="#ff0000"/>
<rect x="531" y="500" width="1" height="1" fill="#ff0000"/>
<rect x="535" y="498" width="3" height="1" fill="#ff0000"/>
<rect x="541" y="497" width="1" height="1" fill="#ff0000"/>
<rect x="542" y="496" width="2" height="1" fill="#ff0000"/>
<rect x="547" y="496" width="3" height="1" fill="#ff0000"/>
<rect x="553" y="494" width="2" height="1" fill="#ff0000"/>
<rect x="555" y="493" width="1" height="1" fill="#ff0000"/>
<rect x="559" y="492" width="2" height="1" fill="#ff0000"/>
<rect x="561" y="491" width="1" height="1" fill="#ff0000"/>
<rect x="565" y="490" width="1" height="1" fill="#ff0000"/>
<rect x="566" y="489" width="2" height="1" fill="#ff0000"/>
<rect x="571" y="487" width="3" height="1" fill="#ff0000"/>
<rect x="577" y="485" width="2" height="1" fill="#ff0000"/>
<rect x="579" y="484" width="1" height="1" fill="#ff0000"/>
<rect x="583" y="482" width="3" height="1" fill="#ff0000"/>
<rect x="589" y="481" width="1" height="1" fill="#ff0000"/>
<rect x="590" y="480" width="2" height="1" fill="#ff0000"/>
<rect x="595" y="479" width="3" height="1" fill="#ff0000"/>
<rect x="601" y="478" width="3" height="1" fill="#ff0000"/>
<rect x="607" y="479" width="3" height="1" fill="#ff0000"/>
<rect x="613" y="479" width="1" height="1" fill="#ff0000"/>
<rect x="614" y="480" width="2" height="1" fill="#ff0000"/>
<rect x="619" y="482" width="1" height="1" fill="#ff0000"/>
<rect x="620" y="483" width="2" height="1" fill="#ff0000"/>
<rect x="625" y="486" width="2" height="1" fill="#ff0000"/>
<rect x="627" y="487" width="1" height="1" fill="#ff0000"/>
<rect x="631" y="491" width="2" height="1" fill="#ff0000"/>
<rect x="633" y="492" width="1" height="1" fill="#ff0000"/>
<rect x="637" y="494" width="1" height="1" fill="#ff0000"/>
<rect x="638" y="495" width="1" height="1" fill="#ff0000"/>
<rect x="639" y="496" width="1" height="1" fill="#ff0000"/>
<rect x="643" y="498" width="1" height="1" fill="#ff0000"/>
<rect x="644" y="499" width="2" height="1" fill="#ff0000"/>
<rect x="649" y="502" width="2" height="1" fill="#ff0000"/>
<rect x="651" y="503" width="1" height="1" fill="#ff0000"/>
<rect x="655" y="504" width="3" height="1" fill="#ff0000"/>
<rect x="661" y="504" width="3" height="1" fill="#ff0000"/>
<rect x="667" y="503" width="3" height="1" fill="#ff0000"/>
<rect x="673" y="502" width="1" height="1" fill="#ff0000"/>
<rect x="674" y="501" width="2" height="1" fill="#ff0000"/>
<rect x="679" y="500" width="3" height="1" fill="#ff0000"/>
<rect x="685" y="499" width="1" height="1" fill="#ff0000"/>
<rect x="686" y="498" width="2" height="1" fill="#ff0000"/>
<rect x="691" y="498" width="3" height="1" fill="#ff0000"/>
<rect x="697" y="499" width="2" height="1" fill="#ff0000"/>
<rect x="699" y="500" width="1" height="1" fill="#ff0000"/>
<rect x="703" y="502" width="2" height="1" fill="#ff0000"/>
<rect x="705" y="503" width="1" height="1" fill="#ff0000"/>
<rect x="709" y="505" width="1" height="1" fill="#ff0000"/>
<rect x="710" y="506" width="1" height="1" fill="#ff0000"/>
<rect x="711" y="507" width="1" height="1" fill="#ff0000"/>
<rect x="715" y="510" width="1" height="1" fill="#ff0000"/>
<rect x="716" y="511" width="1" height="1" fill="#ff0000"/>
<rect x="717" y="512" width="1" height="1" fill="#ff0000"/>
<rect x="721" y="515" width="1" height="1" fill="#ff0000"/>
<rect x="722" y="516" width="1" height="1" fill="#ff0000"/>
<rect x="723" y="517" width="1" height="1" fill="#ff0000"/>
<rect x="727" y="521" width="1" height="1" fill="#ff0000"/>
<rect x="728" y="522" width="2" height="1" fill="#ff0000"/>
<rect x="733" y="526" width="1" height="1" fill="#ff0000"/>
<rect x="734" y="527" width="1" height="1" fill="#ff0000"/>
</g>
<g id="frame">
<rect x="2" y="2" width="759" height="1" fill="#000000"/>
<rect x="2" y="465" width="759" height="1" fill="#000000"/>
<rect x="2" y="2" width="1" height="464" fill="#000000"/>
<rect x="760" y="2" width="1" height="464" fill="#000000"/>
<rect x="2" y="467" width="759" height="1" fill="#000000"/>
<rect x="2" y="582" width="759" height="1" fill="#000000"/>
<rect x="2" y="467" width="1" height="116" fill="#000000"/>
<rect x="760" y="467" width="1" height="116" fill="#000000"/>
<rect x="761" y="34" width="2" height="1" fill="#000000"/>
<rect x="761" y="73" width="2" height="1" fill="#000000"/>
<rect x="761" y="111" width="2" height="1" fill="#000000"/>
<rect x="761" y="149" width="2" height="1" fill="#000000"/>
<rect x="761" y="188" width="2" height="1" fill="#000000"/>
<rect x="761" y="226" width="2" height="1" fill="#000000"/>
<rect x="761" y="265" width="2" height="1" fill="#000000"/>
<rect x="761" y="303" width="2" height="1" fill="#000000"/>
<rect x="761" y="342" width="2" height="1" fill="#000000"/>
<rect x="761" y="380" width="2" height="1" fill="#000000"/>
<rect x="761" y="419" width="2" height="1" fill="#000000"/>
<rect x="761" y="457" width="2" height="1" fill="#000000"/>
<rect x="761" y="469" width="1" height="1" fill="#000000"/>
<rect x="761" y="530" width="2" height="1" fill="#000000"/>
<rect x="761" y="581" width="1" height="1" fill="#000000"/>
<rect x="3" y="583" width="1" height="3" fill="#000000"/>
<rect x="67" y="583" width="1" height="3" fill="#000000"/>
<rect x="131" y="583" width="1" height="3" fill="#000000"/>
<rect x="195" y="583" width="1" height="3" fill="#000000"/>
<rect x="259" y="583" width="1" height="3" fill="#000000"/>
<rect x="323" y="583" width="1" height="3" fill="#000000"/>
<rect x="387" y="583" width="1" height="3" fill="#000000"/>
<rect x="451" y="583" width="1" height="3" fill="#000000"/>
<rect x="515" y="583" width="1" height="3" fill="#000000"/>
<rect x="579" y="583" width="1" height="3" fill="#000000"/>
<rect x="643" y="583" width="1" height="3" fill="#000000"/>
<rect x="707" y="583" width="1" height="3" fill="#000000"/>
</g>
<g id="labels">
<text x="765.64" y="37" textLength="28.53" lengthAdjust="spacingAndGlyphs">0.7930</text>
<text x="765.64" y="76" textLength="28.56" lengthAdjust="spacingAndGlyphs">0.7905</text>
<text x="765.64" y="114" textLength="28.53" lengthAdjust="spacingAndGlyphs">0.7880</text>
<text x="765.64" y="152" textLength="28.56" lengthAdjust="spacingAndGlyphs">0.7855</text>
<text x="765.64" y="191" textLength="28.53" lengthAdjust="spacingAndGlyphs">0.7830</text>
<text x="765.64" y="229" textLength="28.56" lengthAdjust="spacingAndGlyphs">0.7805</text>
<text x="765.64" y="268" textLength="28.53" lengthAdjust="spacingAndGlyphs">0.7780</text>
<text x="765.64" y="306" textLength="28.56" lengthAdjust="spacingAndGlyphs">0.7755</text>
<text x="765.64" y="345" textLength="28.53" lengthAdjust="spacingAndGlyphs">0.7730</text>
<text x="765.64" y="383" textLength="28.56" lengthAdjust="spacingAndGlyphs">0.7705</text>
<text x="765.64" y="422" textLength="28.53" lengthAdjust="spacingAndGlyphs">0.7680</text>
<text x="765.64" y="460" textLength="28.56" lengthAdjust="spacingAndGlyphs">0.7655</text>
<rect x="762" y="68" width="36" height="11" fill="#ff0000"/>
<text x="765.64" y="77" textLength="28.44" lengthAdjust="spacingAndGlyphs" fill="#fff" class="w">0.7904</text>
<rect x="762" y="154" width="36" height="11" fill="#000000"/>
<text x="765.64" y="163" textLength="28.57" lengthAdjust="spacingAndGlyphs" fill="#fff" class="w">0.7848</text>
<rect x="762" y="179" width="36" height="11" fill="#ff0000"/>
<text x="765.63" y="188" textLength="28.64" lengthAdjust="spacingAndGlyphs" fill="#fff" class="w">0.7832</text>
<text x="763.74" y="478" textLength="33.16" lengthAdjust="spacingAndGlyphs">0.00286</text>
<text x="764.03" y="533" textLength="18.23" lengthAdjust="spacingAndGlyphs">0.00</text>
<text x="763.79" y="579" textLength="36.21" lengthAdjust="spacingAndGlyphs">-0.00236</text>
<text x="1.68" y="595" textLength="49.20" lengthAdjust="spacingAndGlyphs">4 Nov 2014</text>
<text x="65.51" y="595" textLength="52.06" lengthAdjust="spacingAndGlyphs">5 Nov 06:00</text>
<text x="129.51" y="595" textLength="52.06" lengthAdjust="spacingAndGlyphs">5 Nov 22:00</text>
<text x="193.41" y="595" textLength="52.17" lengthAdjust="spacingAndGlyphs">6 Nov 14:00</text>
<text x="257.40" y="595" textLength="52.17" lengthAdjust="spacingAndGlyphs">7 Nov 06:00</text>
<text x="321.40" y="595" textLength="52.17" lengthAdjust="spacingAndGlyphs">7 Nov 22:00</text>
<text x="386.17" y="595" textLength="56.80" lengthAdjust="spacingAndGlyphs">10 Nov 15:00</text>
<text x="450.17" y="595" textLength="56.80" lengthAdjust="spacingAndGlyphs">11 Nov 07:00</text>
<text x="514.17" y="595" textLength="56.80" lengthAdjust="spacingAndGlyphs">11 Nov 23:00</text>
<text x="578.17" y="595" textLength="56.80" lengthAdjust="spacingAndGlyphs">12 Nov 15:00</text>
<text x="642.17" y="595" textLength="56.80" lengthAdjust="spacingAndGlyphs">13 Nov 07:00</text>
<text x="706.17" y="595" textLength="56.80" lengthAdjust="spacingAndGlyphs">13 Nov 23:00</text>
<rect x="17" y="5" width="183" height="11" fill="#ffffff"/>
<text x="17.72" y="14" textLength="54.65" lengthAdjust="spacingAndGlyphs">NZDUSD,H1</text>
<text x="77.74" y="14" textLength="28.33" lengthAdjust="spacingAndGlyphs">0.7847</text>
<text x="109.65" y="14" textLength="27.71" lengthAdjust="spacingAndGlyphs">0.7852</text>
<text x="140.25" y="14" textLength="27.65" lengthAdjust="spacingAndGlyphs">0.7846</text>
<text x="170.85" y="14" textLength="27.65" lengthAdjust="spacingAndGlyphs">0.7848</text>
<text x="6.97" y="480" textLength="65.87" lengthAdjust="spacingAndGlyphs">MACD(12,26,9)</text>
<text x="76.10" y="480" textLength="35.50" lengthAdjust="spacingAndGlyphs">-0.00060</text>
<text x="115.04" y="480" textLength="33.42" lengthAdjust="spacingAndGlyphs">0.00010</text>
<text x="6.97" y="578" textLength="18.90" lengthAdjust="spacingAndGlyphs">MT4</text>
<text x="29.19" y="578" textLength="44.64" lengthAdjust="spacingAndGlyphs">TeleTrade,</text>
<text x="76.71" y="578" textLength="9.29" lengthAdjust="spacingAndGlyphs">©</text>
<text x="88.56" y="578" textLength="44.48" lengthAdjust="spacingAndGlyphs">2001-2014,</text>
<text x="136.73" y="578" textLength="51.11" lengthAdjust="spacingAndGlyphs">MetaQuotes</text>
<text x="191.56" y="578" textLength="38.27" lengthAdjust="spacingAndGlyphs">Software</text>
<text x="232.02" y="578" textLength="23.25" lengthAdjust="spacingAndGlyphs">Corp.</text>
</g>
<g id="tri">
<rect x="6" y="9" width="7" height="1" fill="#000000"/>
<rect x="7" y="10" width="5" height="1" fill="#000000"/>
<rect x="8" y="11" width="3" height="1" fill="#000000"/>
<rect x="9" y="12" width="1" height="1" fill="#000000"/>
</g>
</svg>
</body>
</html>
